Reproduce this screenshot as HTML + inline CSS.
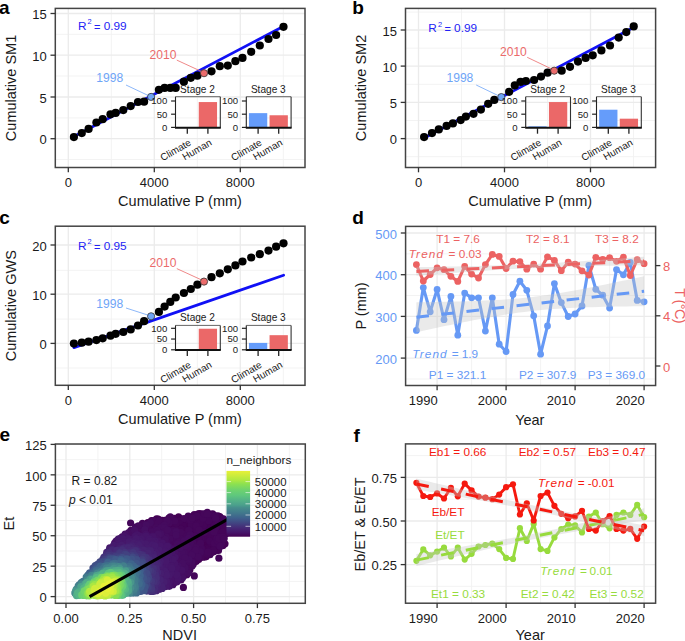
<!DOCTYPE html>
<html><head><meta charset="utf-8"><title>figure</title>
<style>html,body{margin:0;padding:0;background:#fff;}svg{display:block;}text{font-family:"Liberation Sans", sans-serif;}</style>
</head><body>
<svg width="685" height="641" viewBox="0 0 685 641" font-family='"Liberation Sans", sans-serif'>
<rect x="0" y="0" width="685" height="641" fill="#fff" stroke="none" stroke-width="0"/>
<rect x="55.3" y="8.4" width="249.7" height="159.1" fill="#fff" stroke="none" stroke-width="0"/>
<line x1="111.3" y1="8.4" x2="111.3" y2="167.5" stroke="#F2F2F2" stroke-width="0.9"/>
<line x1="197.3" y1="8.4" x2="197.3" y2="167.5" stroke="#F2F2F2" stroke-width="0.9"/>
<line x1="283.3" y1="8.4" x2="283.3" y2="167.5" stroke="#F2F2F2" stroke-width="0.9"/>
<line x1="55.3" y1="159.5" x2="305" y2="159.5" stroke="#F2F2F2" stroke-width="0.9"/>
<line x1="55.3" y1="117.9" x2="305" y2="117.9" stroke="#F2F2F2" stroke-width="0.9"/>
<line x1="55.3" y1="76" x2="305" y2="76" stroke="#F2F2F2" stroke-width="0.9"/>
<line x1="55.3" y1="34.3" x2="305" y2="34.3" stroke="#F2F2F2" stroke-width="0.9"/>
<line x1="68.3" y1="8.4" x2="68.3" y2="167.5" stroke="#EBEBEB" stroke-width="1.3"/>
<line x1="154.3" y1="8.4" x2="154.3" y2="167.5" stroke="#EBEBEB" stroke-width="1.3"/>
<line x1="240.3" y1="8.4" x2="240.3" y2="167.5" stroke="#EBEBEB" stroke-width="1.3"/>
<line x1="55.3" y1="138.7" x2="305" y2="138.7" stroke="#EBEBEB" stroke-width="1.3"/>
<line x1="55.3" y1="97" x2="305" y2="97" stroke="#EBEBEB" stroke-width="1.3"/>
<line x1="55.3" y1="55.2" x2="305" y2="55.2" stroke="#EBEBEB" stroke-width="1.3"/>
<line x1="55.3" y1="13.5" x2="305" y2="13.5" stroke="#EBEBEB" stroke-width="1.3"/>
<line x1="73.9" y1="136.4" x2="283.6" y2="26.3" stroke="#1010F5" stroke-width="2.8" stroke-linecap="round"/>
<line x1="126" y1="85" x2="150.1" y2="96.4" stroke="#6FA5F7" stroke-width="0.8"/>
<line x1="176.8" y1="60.1" x2="203" y2="72.2" stroke="#EB6B6B" stroke-width="0.8"/>
<circle cx="73.9" cy="137.1" r="4.1" fill="#000"/>
<circle cx="81.8" cy="133.1" r="4.1" fill="#000"/>
<circle cx="88.6" cy="128.9" r="4.1" fill="#000"/>
<circle cx="96.4" cy="122.5" r="4.1" fill="#000"/>
<circle cx="102.7" cy="119.2" r="4.1" fill="#000"/>
<circle cx="110.5" cy="114.3" r="4.1" fill="#000"/>
<circle cx="115.7" cy="112.9" r="4.1" fill="#000"/>
<circle cx="123.3" cy="110.1" r="4.1" fill="#000"/>
<circle cx="130.7" cy="106.1" r="4.1" fill="#000"/>
<circle cx="138" cy="102" r="4.1" fill="#000"/>
<circle cx="144.1" cy="101.7" r="4.1" fill="#000"/>
<circle cx="158.9" cy="89.8" r="4.1" fill="#000"/>
<circle cx="164.6" cy="87.9" r="4.1" fill="#000"/>
<circle cx="170.3" cy="87.9" r="4.1" fill="#000"/>
<circle cx="175.7" cy="87.9" r="4.1" fill="#000"/>
<circle cx="183.9" cy="81.7" r="4.1" fill="#000"/>
<circle cx="190.8" cy="77.8" r="4.1" fill="#000"/>
<circle cx="197.4" cy="75.7" r="4.1" fill="#000"/>
<circle cx="211.5" cy="71.3" r="4.1" fill="#000"/>
<circle cx="219.8" cy="66.2" r="4.1" fill="#000"/>
<circle cx="227.8" cy="65.6" r="4.1" fill="#000"/>
<circle cx="235.4" cy="61.2" r="4.1" fill="#000"/>
<circle cx="242.5" cy="57.9" r="4.1" fill="#000"/>
<circle cx="251.2" cy="51.8" r="4.1" fill="#000"/>
<circle cx="259.8" cy="45.5" r="4.1" fill="#000"/>
<circle cx="268.5" cy="39" r="4.1" fill="#000"/>
<circle cx="276.1" cy="35" r="4.1" fill="#000"/>
<circle cx="283.5" cy="26.8" r="4.1" fill="#000"/>
<circle cx="151.1" cy="96.9" r="3.6" fill="#6FA5F7" stroke="#333" stroke-width="0.8"/>
<circle cx="204" cy="73.2" r="3.6" fill="#EB6B6B" stroke="#333" stroke-width="0.8"/>
<rect x="198.75" y="102.06" width="18.3" height="25.34" fill="#EB6868" stroke="none" stroke-width="0"/>
<line x1="175.5" y1="96.7" x2="220.3" y2="96.7" stroke="#666" stroke-width="1"/>
<line x1="220.3" y1="96.7" x2="220.3" y2="127.8" stroke="#333" stroke-width="1.1"/>
<line x1="175.5" y1="96.7" x2="175.5" y2="127.8" stroke="#222" stroke-width="1.1"/>
<line x1="175" y1="127.8" x2="220.8" y2="127.8" stroke="#111" stroke-width="2"/>
<line x1="171.1" y1="101" x2="175.5" y2="101" stroke="#222" stroke-width="1.2"/>
<text x="167.3" y="104.3" font-size="9.6" text-anchor="end" fill="#1a1a1a">100</text>
<line x1="171.1" y1="114.2" x2="175.5" y2="114.2" stroke="#222" stroke-width="1.2"/>
<text x="167.3" y="117.5" font-size="9.6" text-anchor="end" fill="#1a1a1a">50</text>
<line x1="171.1" y1="127.4" x2="175.5" y2="127.4" stroke="#222" stroke-width="1.2"/>
<text x="167.3" y="130.7" font-size="9.6" text-anchor="end" fill="#1a1a1a">0</text>
<line x1="187.3" y1="127.8" x2="187.3" y2="133.7" stroke="#222" stroke-width="1.3"/>
<line x1="207.9" y1="127.8" x2="207.9" y2="133.7" stroke="#222" stroke-width="1.3"/>
<text x="197.5" y="92.57" font-size="10.1" text-anchor="middle" fill="#1a1a1a">Stage 2</text>
<text transform="translate(191.8,144.6) rotate(-30)" x="0" y="0" font-size="9.9" text-anchor="end" fill="#1a1a1a">Climate</text>
<text transform="translate(212.4,144.6) rotate(-30)" x="0" y="0" font-size="9.9" text-anchor="end" fill="#1a1a1a">Human</text>
<rect x="248.95" y="113.14" width="18.3" height="14.26" fill="#659CFA" stroke="none" stroke-width="0"/>
<rect x="269.55" y="115.26" width="18.3" height="12.14" fill="#EB6868" stroke="none" stroke-width="0"/>
<line x1="246.3" y1="96.7" x2="291.1" y2="96.7" stroke="#666" stroke-width="1"/>
<line x1="291.1" y1="96.7" x2="291.1" y2="127.8" stroke="#333" stroke-width="1.1"/>
<line x1="246.3" y1="96.7" x2="246.3" y2="127.8" stroke="#222" stroke-width="1.1"/>
<line x1="245.8" y1="127.8" x2="291.6" y2="127.8" stroke="#111" stroke-width="2"/>
<line x1="241.9" y1="101" x2="246.3" y2="101" stroke="#222" stroke-width="1.2"/>
<text x="238.1" y="104.3" font-size="9.6" text-anchor="end" fill="#1a1a1a">100</text>
<line x1="241.9" y1="114.2" x2="246.3" y2="114.2" stroke="#222" stroke-width="1.2"/>
<text x="238.1" y="117.5" font-size="9.6" text-anchor="end" fill="#1a1a1a">50</text>
<line x1="241.9" y1="127.4" x2="246.3" y2="127.4" stroke="#222" stroke-width="1.2"/>
<text x="238.1" y="130.7" font-size="9.6" text-anchor="end" fill="#1a1a1a">0</text>
<line x1="258.1" y1="127.8" x2="258.1" y2="133.7" stroke="#222" stroke-width="1.3"/>
<line x1="278.7" y1="127.8" x2="278.7" y2="133.7" stroke="#222" stroke-width="1.3"/>
<text x="268.3" y="92.57" font-size="10.1" text-anchor="middle" fill="#1a1a1a">Stage 3</text>
<text transform="translate(262.6,144.6) rotate(-30)" x="0" y="0" font-size="9.9" text-anchor="end" fill="#1a1a1a">Climate</text>
<text transform="translate(283.2,144.6) rotate(-30)" x="0" y="0" font-size="9.9" text-anchor="end" fill="#1a1a1a">Human</text>
<text x="109.7" y="81.66" font-size="12.1" text-anchor="middle" fill="#6FA5F7">1998</text>
<text x="163" y="59.06" font-size="12.1" text-anchor="middle" fill="#EB6B6B">2010</text>
<text x="77.9" y="29.8" font-size="11.8" fill="#2222F5">R</text>
<text x="87.6" y="24.4" font-size="7.4" fill="#2222F5">2</text>
<text x="94.1" y="30.7" font-size="11" fill="#2222F5">=</text>
<text x="103.7" y="29.8" font-size="11.8" fill="#2222F5">0.99</text>
<rect x="55.3" y="8.4" width="249.7" height="159.1" fill="none" stroke="#444444" stroke-width="1.5"/>
<line x1="50.5" y1="138.7" x2="55.3" y2="138.7" stroke="#333333" stroke-width="1.3"/>
<text x="46.7" y="144.37" font-size="13" text-anchor="end" fill="#1a1a1a">0</text>
<line x1="50.5" y1="97" x2="55.3" y2="97" stroke="#333333" stroke-width="1.3"/>
<text x="46.7" y="102.67" font-size="13" text-anchor="end" fill="#1a1a1a">5</text>
<line x1="50.5" y1="55.2" x2="55.3" y2="55.2" stroke="#333333" stroke-width="1.3"/>
<text x="46.7" y="60.87" font-size="13" text-anchor="end" fill="#1a1a1a">10</text>
<line x1="50.5" y1="13.5" x2="55.3" y2="13.5" stroke="#333333" stroke-width="1.3"/>
<text x="46.7" y="19.17" font-size="13" text-anchor="end" fill="#1a1a1a">15</text>
<line x1="68.3" y1="167.5" x2="68.3" y2="172.3" stroke="#333333" stroke-width="1.3"/>
<text x="68.3" y="186.97" font-size="13" text-anchor="middle" fill="#1a1a1a">0</text>
<line x1="154.3" y1="167.5" x2="154.3" y2="172.3" stroke="#333333" stroke-width="1.3"/>
<text x="154.3" y="186.97" font-size="13" text-anchor="middle" fill="#1a1a1a">4000</text>
<line x1="240.3" y1="167.5" x2="240.3" y2="172.3" stroke="#333333" stroke-width="1.3"/>
<text x="240.3" y="186.97" font-size="13" text-anchor="middle" fill="#1a1a1a">8000</text>
<text x="180" y="206.49" font-size="14.5" text-anchor="middle" fill="#1a1a1a">Cumulative P (mm)</text>
<text transform="translate(11,87.95) rotate(-90)" x="0" y="4.99" font-size="14.5" text-anchor="middle" fill="#1a1a1a">Cumulative SM1</text>
<text x="-1" y="13.8" font-size="19" font-weight="bold" fill="#000">a</text>
<rect x="405.5" y="8.4" width="250.1" height="159.1" fill="#fff" stroke="none" stroke-width="0"/>
<line x1="461.5" y1="8.4" x2="461.5" y2="167.5" stroke="#F2F2F2" stroke-width="0.9"/>
<line x1="547.5" y1="8.4" x2="547.5" y2="167.5" stroke="#F2F2F2" stroke-width="0.9"/>
<line x1="633.5" y1="8.4" x2="633.5" y2="167.5" stroke="#F2F2F2" stroke-width="0.9"/>
<line x1="405.5" y1="156.7" x2="655.6" y2="156.7" stroke="#F2F2F2" stroke-width="0.9"/>
<line x1="405.5" y1="120.5" x2="655.6" y2="120.5" stroke="#F2F2F2" stroke-width="0.9"/>
<line x1="405.5" y1="84.3" x2="655.6" y2="84.3" stroke="#F2F2F2" stroke-width="0.9"/>
<line x1="405.5" y1="48.2" x2="655.6" y2="48.2" stroke="#F2F2F2" stroke-width="0.9"/>
<line x1="405.5" y1="12.1" x2="655.6" y2="12.1" stroke="#F2F2F2" stroke-width="0.9"/>
<line x1="418.5" y1="8.4" x2="418.5" y2="167.5" stroke="#EBEBEB" stroke-width="1.3"/>
<line x1="504.5" y1="8.4" x2="504.5" y2="167.5" stroke="#EBEBEB" stroke-width="1.3"/>
<line x1="590.5" y1="8.4" x2="590.5" y2="167.5" stroke="#EBEBEB" stroke-width="1.3"/>
<line x1="405.5" y1="138.6" x2="655.6" y2="138.6" stroke="#EBEBEB" stroke-width="1.3"/>
<line x1="405.5" y1="102.4" x2="655.6" y2="102.4" stroke="#EBEBEB" stroke-width="1.3"/>
<line x1="405.5" y1="66.1" x2="655.6" y2="66.1" stroke="#EBEBEB" stroke-width="1.3"/>
<line x1="405.5" y1="30" x2="655.6" y2="30" stroke="#EBEBEB" stroke-width="1.3"/>
<line x1="424.1" y1="138.1" x2="633.4" y2="27.5" stroke="#1010F5" stroke-width="2.8" stroke-linecap="round"/>
<line x1="476.2" y1="85" x2="500.3" y2="96.6" stroke="#6FA5F7" stroke-width="0.8"/>
<line x1="527.2" y1="57.3" x2="553.2" y2="69.7" stroke="#EB6B6B" stroke-width="0.8"/>
<circle cx="424.1" cy="137.1" r="4.1" fill="#000"/>
<circle cx="432" cy="133.1" r="4.1" fill="#000"/>
<circle cx="438.8" cy="129.4" r="4.1" fill="#000"/>
<circle cx="446.6" cy="125.9" r="4.1" fill="#000"/>
<circle cx="452.9" cy="123.4" r="4.1" fill="#000"/>
<circle cx="460.7" cy="120.1" r="4.1" fill="#000"/>
<circle cx="465.9" cy="116.6" r="4.1" fill="#000"/>
<circle cx="473.5" cy="113.8" r="4.1" fill="#000"/>
<circle cx="480.9" cy="109.6" r="4.1" fill="#000"/>
<circle cx="488.2" cy="103.8" r="4.1" fill="#000"/>
<circle cx="494.3" cy="99.9" r="4.1" fill="#000"/>
<circle cx="509.1" cy="91.8" r="4.1" fill="#000"/>
<circle cx="514.8" cy="85.4" r="4.1" fill="#000"/>
<circle cx="520.5" cy="81.9" r="4.1" fill="#000"/>
<circle cx="525.9" cy="81" r="4.1" fill="#000"/>
<circle cx="534.1" cy="80" r="4.1" fill="#000"/>
<circle cx="541" cy="76.6" r="4.1" fill="#000"/>
<circle cx="547.6" cy="72.7" r="4.1" fill="#000"/>
<circle cx="561.7" cy="70.7" r="4.1" fill="#000"/>
<circle cx="570" cy="66.8" r="4.1" fill="#000"/>
<circle cx="578" cy="61.6" r="4.1" fill="#000"/>
<circle cx="585.6" cy="57.9" r="4.1" fill="#000"/>
<circle cx="592.7" cy="55.3" r="4.1" fill="#000"/>
<circle cx="601.4" cy="50.4" r="4.1" fill="#000"/>
<circle cx="610" cy="45.5" r="4.1" fill="#000"/>
<circle cx="618.7" cy="37.6" r="4.1" fill="#000"/>
<circle cx="626.3" cy="32.1" r="4.1" fill="#000"/>
<circle cx="633.7" cy="26.4" r="4.1" fill="#000"/>
<circle cx="501.3" cy="97.1" r="3.6" fill="#6FA5F7" stroke="#333" stroke-width="0.8"/>
<circle cx="554.2" cy="70.7" r="3.6" fill="#EB6B6B" stroke="#333" stroke-width="0.8"/>
<rect x="528.35" y="126.34" width="18.3" height="1.06" fill="#659CFA" stroke="none" stroke-width="0"/>
<rect x="548.95" y="102.06" width="18.3" height="25.34" fill="#EB6868" stroke="none" stroke-width="0"/>
<line x1="525.7" y1="96.7" x2="570.5" y2="96.7" stroke="#666" stroke-width="1"/>
<line x1="570.5" y1="96.7" x2="570.5" y2="127.8" stroke="#333" stroke-width="1.1"/>
<line x1="525.7" y1="96.7" x2="525.7" y2="127.8" stroke="#222" stroke-width="1.1"/>
<line x1="525.2" y1="127.8" x2="571" y2="127.8" stroke="#111" stroke-width="2"/>
<line x1="521.3" y1="101" x2="525.7" y2="101" stroke="#222" stroke-width="1.2"/>
<text x="517.5" y="104.3" font-size="9.6" text-anchor="end" fill="#1a1a1a">100</text>
<line x1="521.3" y1="114.2" x2="525.7" y2="114.2" stroke="#222" stroke-width="1.2"/>
<text x="517.5" y="117.5" font-size="9.6" text-anchor="end" fill="#1a1a1a">50</text>
<line x1="521.3" y1="127.4" x2="525.7" y2="127.4" stroke="#222" stroke-width="1.2"/>
<text x="517.5" y="130.7" font-size="9.6" text-anchor="end" fill="#1a1a1a">0</text>
<line x1="537.5" y1="127.8" x2="537.5" y2="133.7" stroke="#222" stroke-width="1.3"/>
<line x1="558.1" y1="127.8" x2="558.1" y2="133.7" stroke="#222" stroke-width="1.3"/>
<text x="547.7" y="92.57" font-size="10.1" text-anchor="middle" fill="#1a1a1a">Stage 2</text>
<text transform="translate(542,144.6) rotate(-30)" x="0" y="0" font-size="9.9" text-anchor="end" fill="#1a1a1a">Climate</text>
<text transform="translate(562.6,144.6) rotate(-30)" x="0" y="0" font-size="9.9" text-anchor="end" fill="#1a1a1a">Human</text>
<rect x="599.15" y="109.71" width="18.3" height="17.69" fill="#659CFA" stroke="none" stroke-width="0"/>
<rect x="619.75" y="118.69" width="18.3" height="8.71" fill="#EB6868" stroke="none" stroke-width="0"/>
<line x1="596.5" y1="96.7" x2="641.3" y2="96.7" stroke="#666" stroke-width="1"/>
<line x1="641.3" y1="96.7" x2="641.3" y2="127.8" stroke="#333" stroke-width="1.1"/>
<line x1="596.5" y1="96.7" x2="596.5" y2="127.8" stroke="#222" stroke-width="1.1"/>
<line x1="596" y1="127.8" x2="641.8" y2="127.8" stroke="#111" stroke-width="2"/>
<line x1="592.1" y1="101" x2="596.5" y2="101" stroke="#222" stroke-width="1.2"/>
<text x="588.3" y="104.3" font-size="9.6" text-anchor="end" fill="#1a1a1a">100</text>
<line x1="592.1" y1="114.2" x2="596.5" y2="114.2" stroke="#222" stroke-width="1.2"/>
<text x="588.3" y="117.5" font-size="9.6" text-anchor="end" fill="#1a1a1a">50</text>
<line x1="592.1" y1="127.4" x2="596.5" y2="127.4" stroke="#222" stroke-width="1.2"/>
<text x="588.3" y="130.7" font-size="9.6" text-anchor="end" fill="#1a1a1a">0</text>
<line x1="608.3" y1="127.8" x2="608.3" y2="133.7" stroke="#222" stroke-width="1.3"/>
<line x1="628.9" y1="127.8" x2="628.9" y2="133.7" stroke="#222" stroke-width="1.3"/>
<text x="618.5" y="92.57" font-size="10.1" text-anchor="middle" fill="#1a1a1a">Stage 3</text>
<text transform="translate(612.8,144.6) rotate(-30)" x="0" y="0" font-size="9.9" text-anchor="end" fill="#1a1a1a">Climate</text>
<text transform="translate(633.4,144.6) rotate(-30)" x="0" y="0" font-size="9.9" text-anchor="end" fill="#1a1a1a">Human</text>
<text x="459.9" y="81.66" font-size="12.1" text-anchor="middle" fill="#6FA5F7">1998</text>
<text x="513.4" y="56.16" font-size="12.1" text-anchor="middle" fill="#EB6B6B">2010</text>
<text x="428.3" y="32.4" font-size="11.8" fill="#2222F5">R</text>
<text x="438" y="27" font-size="7.4" fill="#2222F5">2</text>
<text x="444.5" y="33.3" font-size="11" fill="#2222F5">=</text>
<text x="454.1" y="32.4" font-size="11.8" fill="#2222F5">0.99</text>
<rect x="405.5" y="8.4" width="250.1" height="159.1" fill="none" stroke="#444444" stroke-width="1.5"/>
<line x1="400.7" y1="138.6" x2="405.5" y2="138.6" stroke="#333333" stroke-width="1.3"/>
<text x="396.9" y="144.27" font-size="13" text-anchor="end" fill="#1a1a1a">0</text>
<line x1="400.7" y1="102.4" x2="405.5" y2="102.4" stroke="#333333" stroke-width="1.3"/>
<text x="396.9" y="108.07" font-size="13" text-anchor="end" fill="#1a1a1a">5</text>
<line x1="400.7" y1="66.1" x2="405.5" y2="66.1" stroke="#333333" stroke-width="1.3"/>
<text x="396.9" y="71.77" font-size="13" text-anchor="end" fill="#1a1a1a">10</text>
<line x1="400.7" y1="30" x2="405.5" y2="30" stroke="#333333" stroke-width="1.3"/>
<text x="396.9" y="35.67" font-size="13" text-anchor="end" fill="#1a1a1a">15</text>
<line x1="418.5" y1="167.5" x2="418.5" y2="172.3" stroke="#333333" stroke-width="1.3"/>
<text x="418.5" y="186.97" font-size="13" text-anchor="middle" fill="#1a1a1a">0</text>
<line x1="504.5" y1="167.5" x2="504.5" y2="172.3" stroke="#333333" stroke-width="1.3"/>
<text x="504.5" y="186.97" font-size="13" text-anchor="middle" fill="#1a1a1a">4000</text>
<line x1="590.5" y1="167.5" x2="590.5" y2="172.3" stroke="#333333" stroke-width="1.3"/>
<text x="590.5" y="186.97" font-size="13" text-anchor="middle" fill="#1a1a1a">8000</text>
<text x="530.2" y="206.49" font-size="14.5" text-anchor="middle" fill="#1a1a1a">Cumulative P (mm)</text>
<text transform="translate(361.2,87.95) rotate(-90)" x="0" y="4.99" font-size="14.5" text-anchor="middle" fill="#1a1a1a">Cumulative SM2</text>
<text x="352.2" y="13.8" font-size="19" font-weight="bold" fill="#000">b</text>
<rect x="55.3" y="226.2" width="249.7" height="159.1" fill="#fff" stroke="none" stroke-width="0"/>
<line x1="111.3" y1="226.2" x2="111.3" y2="385.3" stroke="#F2F2F2" stroke-width="0.9"/>
<line x1="197.3" y1="226.2" x2="197.3" y2="385.3" stroke="#F2F2F2" stroke-width="0.9"/>
<line x1="283.3" y1="226.2" x2="283.3" y2="385.3" stroke="#F2F2F2" stroke-width="0.9"/>
<line x1="55.3" y1="368" x2="305" y2="368" stroke="#F2F2F2" stroke-width="0.9"/>
<line x1="55.3" y1="319.1" x2="305" y2="319.1" stroke="#F2F2F2" stroke-width="0.9"/>
<line x1="55.3" y1="270.3" x2="305" y2="270.3" stroke="#F2F2F2" stroke-width="0.9"/>
<line x1="68.3" y1="226.2" x2="68.3" y2="385.3" stroke="#EBEBEB" stroke-width="1.3"/>
<line x1="154.3" y1="226.2" x2="154.3" y2="385.3" stroke="#EBEBEB" stroke-width="1.3"/>
<line x1="240.3" y1="226.2" x2="240.3" y2="385.3" stroke="#EBEBEB" stroke-width="1.3"/>
<line x1="55.3" y1="343.4" x2="305" y2="343.4" stroke="#EBEBEB" stroke-width="1.3"/>
<line x1="55.3" y1="294.2" x2="305" y2="294.2" stroke="#EBEBEB" stroke-width="1.3"/>
<line x1="55.3" y1="245" x2="305" y2="245" stroke="#EBEBEB" stroke-width="1.3"/>
<line x1="73.9" y1="347.6" x2="283.6" y2="275.2" stroke="#1010F5" stroke-width="2.8" stroke-linecap="round"/>
<line x1="126" y1="308" x2="150.1" y2="315.8" stroke="#6FA5F7" stroke-width="0.8"/>
<line x1="176.8" y1="268.6" x2="203" y2="280.6" stroke="#EB6B6B" stroke-width="0.8"/>
<circle cx="73.9" cy="343.6" r="4.1" fill="#000"/>
<circle cx="81.8" cy="342.7" r="4.1" fill="#000"/>
<circle cx="88.6" cy="341.7" r="4.1" fill="#000"/>
<circle cx="96.4" cy="340.1" r="4.1" fill="#000"/>
<circle cx="102.7" cy="338.3" r="4.1" fill="#000"/>
<circle cx="110.5" cy="335.7" r="4.1" fill="#000"/>
<circle cx="115.7" cy="333.8" r="4.1" fill="#000"/>
<circle cx="123.3" cy="332" r="4.1" fill="#000"/>
<circle cx="130.7" cy="329.4" r="4.1" fill="#000"/>
<circle cx="138" cy="325.5" r="4.1" fill="#000"/>
<circle cx="144.1" cy="321.2" r="4.1" fill="#000"/>
<circle cx="158.9" cy="311.9" r="4.1" fill="#000"/>
<circle cx="164.6" cy="306.6" r="4.1" fill="#000"/>
<circle cx="170.3" cy="301.9" r="4.1" fill="#000"/>
<circle cx="175.7" cy="297.5" r="4.1" fill="#000"/>
<circle cx="183.9" cy="293" r="4.1" fill="#000"/>
<circle cx="190.8" cy="289" r="4.1" fill="#000"/>
<circle cx="197.4" cy="284.7" r="4.1" fill="#000"/>
<circle cx="211.5" cy="277.2" r="4.1" fill="#000"/>
<circle cx="219.8" cy="273.3" r="4.1" fill="#000"/>
<circle cx="227.8" cy="269.3" r="4.1" fill="#000"/>
<circle cx="235.4" cy="265.4" r="4.1" fill="#000"/>
<circle cx="242.5" cy="261.5" r="4.1" fill="#000"/>
<circle cx="251.2" cy="257.5" r="4.1" fill="#000"/>
<circle cx="259.8" cy="254.2" r="4.1" fill="#000"/>
<circle cx="268.5" cy="250.6" r="4.1" fill="#000"/>
<circle cx="276.1" cy="246.7" r="4.1" fill="#000"/>
<circle cx="283.5" cy="243.3" r="4.1" fill="#000"/>
<circle cx="151.1" cy="316.3" r="3.6" fill="#6FA5F7" stroke="#333" stroke-width="0.8"/>
<circle cx="204" cy="281.6" r="3.6" fill="#EB6B6B" stroke="#333" stroke-width="0.8"/>
<rect x="198.75" y="328.73" width="18.3" height="21.07" fill="#EB6868" stroke="none" stroke-width="0"/>
<line x1="175.5" y1="325.4" x2="220.3" y2="325.4" stroke="#666" stroke-width="1"/>
<line x1="220.3" y1="325.4" x2="220.3" y2="350" stroke="#333" stroke-width="1.1"/>
<line x1="175.5" y1="325.4" x2="175.5" y2="350" stroke="#222" stroke-width="1.1"/>
<line x1="175" y1="350" x2="220.8" y2="350" stroke="#111" stroke-width="2"/>
<line x1="171.1" y1="328.3" x2="175.5" y2="328.3" stroke="#222" stroke-width="1.2"/>
<text x="167.3" y="331.6" font-size="9.6" text-anchor="end" fill="#1a1a1a">100</text>
<line x1="171.1" y1="339.05" x2="175.5" y2="339.05" stroke="#222" stroke-width="1.2"/>
<text x="167.3" y="342.35" font-size="9.6" text-anchor="end" fill="#1a1a1a">50</text>
<line x1="171.1" y1="349.8" x2="175.5" y2="349.8" stroke="#222" stroke-width="1.2"/>
<text x="167.3" y="353.1" font-size="9.6" text-anchor="end" fill="#1a1a1a">0</text>
<line x1="187.3" y1="350" x2="187.3" y2="355.9" stroke="#222" stroke-width="1.3"/>
<line x1="207.9" y1="350" x2="207.9" y2="355.9" stroke="#222" stroke-width="1.3"/>
<text x="197.5" y="321.27" font-size="10.1" text-anchor="middle" fill="#1a1a1a">Stage 2</text>
<text transform="translate(191.8,366.8) rotate(-30)" x="0" y="0" font-size="9.9" text-anchor="end" fill="#1a1a1a">Climate</text>
<text transform="translate(212.4,366.8) rotate(-30)" x="0" y="0" font-size="9.9" text-anchor="end" fill="#1a1a1a">Human</text>
<rect x="248.95" y="342.92" width="18.3" height="6.88" fill="#659CFA" stroke="none" stroke-width="0"/>
<rect x="269.55" y="335.18" width="18.3" height="14.62" fill="#EB6868" stroke="none" stroke-width="0"/>
<line x1="246.3" y1="325.4" x2="291.1" y2="325.4" stroke="#666" stroke-width="1"/>
<line x1="291.1" y1="325.4" x2="291.1" y2="350" stroke="#333" stroke-width="1.1"/>
<line x1="246.3" y1="325.4" x2="246.3" y2="350" stroke="#222" stroke-width="1.1"/>
<line x1="245.8" y1="350" x2="291.6" y2="350" stroke="#111" stroke-width="2"/>
<line x1="241.9" y1="328.3" x2="246.3" y2="328.3" stroke="#222" stroke-width="1.2"/>
<text x="238.1" y="331.6" font-size="9.6" text-anchor="end" fill="#1a1a1a">100</text>
<line x1="241.9" y1="339.05" x2="246.3" y2="339.05" stroke="#222" stroke-width="1.2"/>
<text x="238.1" y="342.35" font-size="9.6" text-anchor="end" fill="#1a1a1a">50</text>
<line x1="241.9" y1="349.8" x2="246.3" y2="349.8" stroke="#222" stroke-width="1.2"/>
<text x="238.1" y="353.1" font-size="9.6" text-anchor="end" fill="#1a1a1a">0</text>
<line x1="258.1" y1="350" x2="258.1" y2="355.9" stroke="#222" stroke-width="1.3"/>
<line x1="278.7" y1="350" x2="278.7" y2="355.9" stroke="#222" stroke-width="1.3"/>
<text x="268.3" y="321.27" font-size="10.1" text-anchor="middle" fill="#1a1a1a">Stage 3</text>
<text transform="translate(262.6,366.8) rotate(-30)" x="0" y="0" font-size="9.9" text-anchor="end" fill="#1a1a1a">Climate</text>
<text transform="translate(283.2,366.8) rotate(-30)" x="0" y="0" font-size="9.9" text-anchor="end" fill="#1a1a1a">Human</text>
<text x="109.7" y="308.06" font-size="12.1" text-anchor="middle" fill="#6FA5F7">1998</text>
<text x="163" y="267.36" font-size="12.1" text-anchor="middle" fill="#EB6B6B">2010</text>
<text x="77.9" y="249.8" font-size="11.8" fill="#2222F5">R</text>
<text x="87.6" y="244.4" font-size="7.4" fill="#2222F5">2</text>
<text x="94.1" y="250.7" font-size="11" fill="#2222F5">=</text>
<text x="103.7" y="249.8" font-size="11.8" fill="#2222F5">0.95</text>
<rect x="55.3" y="226.2" width="249.7" height="159.1" fill="none" stroke="#444444" stroke-width="1.5"/>
<line x1="50.5" y1="343.4" x2="55.3" y2="343.4" stroke="#333333" stroke-width="1.3"/>
<text x="46.7" y="349.07" font-size="13" text-anchor="end" fill="#1a1a1a">0</text>
<line x1="50.5" y1="294.2" x2="55.3" y2="294.2" stroke="#333333" stroke-width="1.3"/>
<text x="46.7" y="299.87" font-size="13" text-anchor="end" fill="#1a1a1a">10</text>
<line x1="50.5" y1="245" x2="55.3" y2="245" stroke="#333333" stroke-width="1.3"/>
<text x="46.7" y="250.67" font-size="13" text-anchor="end" fill="#1a1a1a">20</text>
<line x1="68.3" y1="385.3" x2="68.3" y2="390.1" stroke="#333333" stroke-width="1.3"/>
<text x="68.3" y="404.77" font-size="13" text-anchor="middle" fill="#1a1a1a">0</text>
<line x1="154.3" y1="385.3" x2="154.3" y2="390.1" stroke="#333333" stroke-width="1.3"/>
<text x="154.3" y="404.77" font-size="13" text-anchor="middle" fill="#1a1a1a">4000</text>
<line x1="240.3" y1="385.3" x2="240.3" y2="390.1" stroke="#333333" stroke-width="1.3"/>
<text x="240.3" y="404.77" font-size="13" text-anchor="middle" fill="#1a1a1a">8000</text>
<text x="180" y="424.29" font-size="14.5" text-anchor="middle" fill="#1a1a1a">Cumulative P (mm)</text>
<text transform="translate(11,305.75) rotate(-90)" x="0" y="4.99" font-size="14.5" text-anchor="middle" fill="#1a1a1a">Cumulative GWS</text>
<text x="-0.8" y="223.8" font-size="19" font-weight="bold" fill="#000">c</text>
<rect x="405.6" y="226.4" width="250" height="159.1" fill="#fff" stroke="none" stroke-width="0"/>
<line x1="471.6" y1="226.4" x2="471.6" y2="385.5" stroke="#F2F2F2" stroke-width="0.9"/>
<line x1="540.6" y1="226.4" x2="540.6" y2="385.5" stroke="#F2F2F2" stroke-width="0.9"/>
<line x1="609.6" y1="226.4" x2="609.6" y2="385.5" stroke="#F2F2F2" stroke-width="0.9"/>
<line x1="405.6" y1="253.85" x2="655.6" y2="253.85" stroke="#F2F2F2" stroke-width="0.9"/>
<line x1="405.6" y1="295.55" x2="655.6" y2="295.55" stroke="#F2F2F2" stroke-width="0.9"/>
<line x1="405.6" y1="337.25" x2="655.6" y2="337.25" stroke="#F2F2F2" stroke-width="0.9"/>
<line x1="405.6" y1="378.95" x2="655.6" y2="378.95" stroke="#F2F2F2" stroke-width="0.9"/>
<line x1="437.1" y1="226.4" x2="437.1" y2="385.5" stroke="#EBEBEB" stroke-width="1.3"/>
<line x1="506.1" y1="226.4" x2="506.1" y2="385.5" stroke="#EBEBEB" stroke-width="1.3"/>
<line x1="575.1" y1="226.4" x2="575.1" y2="385.5" stroke="#EBEBEB" stroke-width="1.3"/>
<line x1="644.1" y1="226.4" x2="644.1" y2="385.5" stroke="#EBEBEB" stroke-width="1.3"/>
<line x1="405.6" y1="233" x2="655.6" y2="233" stroke="#EBEBEB" stroke-width="1.3"/>
<line x1="405.6" y1="274.7" x2="655.6" y2="274.7" stroke="#EBEBEB" stroke-width="1.3"/>
<line x1="405.6" y1="316.4" x2="655.6" y2="316.4" stroke="#EBEBEB" stroke-width="1.3"/>
<line x1="405.6" y1="358.1" x2="655.6" y2="358.1" stroke="#EBEBEB" stroke-width="1.3"/>
<polyline points="416.4,330.4 423.3,287.6 430.2,311.8 437.1,289.5 444,319.7 450.9,296.4 457.8,335.2 464.7,293.1 471.6,297.8 478.5,297.8 485.4,331.1 492.3,297.8 499.2,344.2 506.1,351.5 513,294.5 519.9,281.2 526.8,290.3 533.7,315.8 540.6,354.2 547.5,326 554.4,283.6 561.3,302.6 568.2,316.5 575.1,314 582,306 588.9,265.5 595.8,289.3 602.7,295.2 609.6,308.1 616.5,269.6 623.4,274.8 630.3,262.3 637.2,300.4 644.1,301.8" fill="none" stroke="#6699F5" stroke-width="3.1" stroke-linejoin="round" stroke-linecap="round"/>
<circle cx="416.4" cy="330.4" r="3.4" fill="#6699F5"/>
<circle cx="423.3" cy="287.6" r="3.4" fill="#6699F5"/>
<circle cx="430.2" cy="311.8" r="3.4" fill="#6699F5"/>
<circle cx="437.1" cy="289.5" r="3.4" fill="#6699F5"/>
<circle cx="444" cy="319.7" r="3.4" fill="#6699F5"/>
<circle cx="450.9" cy="296.4" r="3.4" fill="#6699F5"/>
<circle cx="457.8" cy="335.2" r="3.4" fill="#6699F5"/>
<circle cx="464.7" cy="293.1" r="3.4" fill="#6699F5"/>
<circle cx="471.6" cy="297.8" r="3.4" fill="#6699F5"/>
<circle cx="478.5" cy="297.8" r="3.4" fill="#6699F5"/>
<circle cx="485.4" cy="331.1" r="3.4" fill="#6699F5"/>
<circle cx="492.3" cy="297.8" r="3.4" fill="#6699F5"/>
<circle cx="499.2" cy="344.2" r="3.4" fill="#6699F5"/>
<circle cx="506.1" cy="351.5" r="3.4" fill="#6699F5"/>
<circle cx="513" cy="294.5" r="3.4" fill="#6699F5"/>
<circle cx="519.9" cy="281.2" r="3.4" fill="#6699F5"/>
<circle cx="526.8" cy="290.3" r="3.4" fill="#6699F5"/>
<circle cx="533.7" cy="315.8" r="3.4" fill="#6699F5"/>
<circle cx="540.6" cy="354.2" r="3.4" fill="#6699F5"/>
<circle cx="547.5" cy="326" r="3.4" fill="#6699F5"/>
<circle cx="554.4" cy="283.6" r="3.4" fill="#6699F5"/>
<circle cx="561.3" cy="302.6" r="3.4" fill="#6699F5"/>
<circle cx="568.2" cy="316.5" r="3.4" fill="#6699F5"/>
<circle cx="575.1" cy="314" r="3.4" fill="#6699F5"/>
<circle cx="582" cy="306" r="3.4" fill="#6699F5"/>
<circle cx="588.9" cy="265.5" r="3.4" fill="#6699F5"/>
<circle cx="595.8" cy="289.3" r="3.4" fill="#6699F5"/>
<circle cx="602.7" cy="295.2" r="3.4" fill="#6699F5"/>
<circle cx="609.6" cy="308.1" r="3.4" fill="#6699F5"/>
<circle cx="616.5" cy="269.6" r="3.4" fill="#6699F5"/>
<circle cx="623.4" cy="274.8" r="3.4" fill="#6699F5"/>
<circle cx="630.3" cy="262.3" r="3.4" fill="#6699F5"/>
<circle cx="637.2" cy="300.4" r="3.4" fill="#6699F5"/>
<circle cx="644.1" cy="301.8" r="3.4" fill="#6699F5"/>
<polyline points="416.4,264.6 423.3,281 430.2,274.5 437.1,267.8 444,269.7 450.9,276.3 457.8,281.4 464.7,266.4 471.6,274.1 478.5,278 485.4,264.6 492.3,254.4 499.2,256.4 506.1,268.5 513,261.2 519.9,261.6 526.8,269.2 533.7,264.1 540.6,269.2 547.5,256.8 554.4,260.4 561.3,270.7 568.2,262.2 575.1,264.1 582,270.8 588.9,275.1 595.8,257.3 602.7,259.4 609.6,257.7 616.5,261.3 623.4,257.1 630.3,275.5 637.2,259.7 644.1,263.7" fill="none" stroke="#EC6262" stroke-width="3.1" stroke-linejoin="round" stroke-linecap="round"/>
<circle cx="416.4" cy="264.6" r="3.4" fill="#EC6262"/>
<circle cx="423.3" cy="281" r="3.4" fill="#EC6262"/>
<circle cx="430.2" cy="274.5" r="3.4" fill="#EC6262"/>
<circle cx="437.1" cy="267.8" r="3.4" fill="#EC6262"/>
<circle cx="444" cy="269.7" r="3.4" fill="#EC6262"/>
<circle cx="450.9" cy="276.3" r="3.4" fill="#EC6262"/>
<circle cx="457.8" cy="281.4" r="3.4" fill="#EC6262"/>
<circle cx="464.7" cy="266.4" r="3.4" fill="#EC6262"/>
<circle cx="471.6" cy="274.1" r="3.4" fill="#EC6262"/>
<circle cx="478.5" cy="278" r="3.4" fill="#EC6262"/>
<circle cx="485.4" cy="264.6" r="3.4" fill="#EC6262"/>
<circle cx="492.3" cy="254.4" r="3.4" fill="#EC6262"/>
<circle cx="499.2" cy="256.4" r="3.4" fill="#EC6262"/>
<circle cx="506.1" cy="268.5" r="3.4" fill="#EC6262"/>
<circle cx="513" cy="261.2" r="3.4" fill="#EC6262"/>
<circle cx="519.9" cy="261.6" r="3.4" fill="#EC6262"/>
<circle cx="526.8" cy="269.2" r="3.4" fill="#EC6262"/>
<circle cx="533.7" cy="264.1" r="3.4" fill="#EC6262"/>
<circle cx="540.6" cy="269.2" r="3.4" fill="#EC6262"/>
<circle cx="547.5" cy="256.8" r="3.4" fill="#EC6262"/>
<circle cx="554.4" cy="260.4" r="3.4" fill="#EC6262"/>
<circle cx="561.3" cy="270.7" r="3.4" fill="#EC6262"/>
<circle cx="568.2" cy="262.2" r="3.4" fill="#EC6262"/>
<circle cx="575.1" cy="264.1" r="3.4" fill="#EC6262"/>
<circle cx="582" cy="270.8" r="3.4" fill="#EC6262"/>
<circle cx="588.9" cy="275.1" r="3.4" fill="#EC6262"/>
<circle cx="595.8" cy="257.3" r="3.4" fill="#EC6262"/>
<circle cx="602.7" cy="259.4" r="3.4" fill="#EC6262"/>
<circle cx="609.6" cy="257.7" r="3.4" fill="#EC6262"/>
<circle cx="616.5" cy="261.3" r="3.4" fill="#EC6262"/>
<circle cx="623.4" cy="257.1" r="3.4" fill="#EC6262"/>
<circle cx="630.3" cy="275.5" r="3.4" fill="#EC6262"/>
<circle cx="637.2" cy="259.7" r="3.4" fill="#EC6262"/>
<circle cx="644.1" cy="263.7" r="3.4" fill="#EC6262"/>
<polygon points="416.4,302.2 422.09,302.13 427.79,302.06 433.48,301.98 439.17,301.89 444.86,301.78 450.56,301.67 456.25,301.54 461.94,301.4 467.63,301.24 473.33,301.06 479.02,300.85 484.71,300.62 490.4,300.35 496.1,300.05 501.79,299.7 507.48,299.31 513.17,298.87 518.87,298.38 524.56,297.82 530.25,297.2 535.94,296.52 541.63,295.78 547.33,294.97 553.02,294.11 558.71,293.2 564.4,292.25 570.1,291.25 575.79,290.22 581.48,289.15 587.18,288.06 592.87,286.94 598.56,285.8 604.25,284.64 609.95,283.47 615.64,282.28 621.33,281.09 627.02,279.88 632.72,278.66 638.41,277.43 644.1,276.2 644.1,306.2 638.41,306.27 632.72,306.34 627.02,306.42 621.33,306.51 615.64,306.62 609.95,306.73 604.25,306.86 598.56,307 592.87,307.16 587.18,307.34 581.48,307.55 575.79,307.78 570.1,308.05 564.4,308.35 558.71,308.7 553.02,309.09 547.33,309.53 541.63,310.02 535.94,310.58 530.25,311.2 524.56,311.88 518.87,312.62 513.17,313.43 507.48,314.29 501.79,315.2 496.1,316.15 490.4,317.15 484.71,318.18 479.02,319.25 473.33,320.34 467.63,321.46 461.94,322.6 456.25,323.76 450.56,324.93 444.86,326.12 439.17,327.31 433.48,328.52 427.79,329.74 422.09,330.97 416.4,332.2" fill="#C4C4C4" fill-opacity="0.36"/>
<line x1="416.4" y1="317.2" x2="644.1" y2="291.2" stroke="#6699F5" stroke-width="3" stroke-dasharray="12.6 12.6" stroke-dashoffset="0"/>
<polygon points="416.4,267.2 422.09,267.1 427.79,267 433.48,266.89 439.17,266.78 444.86,266.67 450.56,266.56 456.25,266.44 461.94,266.31 467.63,266.19 473.33,266.05 479.02,265.91 484.71,265.76 490.4,265.61 496.1,265.44 501.79,265.26 507.48,265.07 513.17,264.86 518.87,264.64 524.56,264.4 530.25,264.15 535.94,263.88 541.63,263.59 547.33,263.29 553.02,262.97 558.71,262.63 564.4,262.29 570.1,261.93 575.79,261.56 581.48,261.19 587.18,260.8 592.87,260.41 598.56,260.01 604.25,259.61 609.95,259.21 615.64,258.8 621.33,258.38 627.02,257.97 632.72,257.55 638.41,257.12 644.1,256.7 644.1,265.1 638.41,265.2 632.72,265.3 627.02,265.41 621.33,265.52 615.64,265.63 609.95,265.74 604.25,265.86 598.56,265.99 592.87,266.11 587.18,266.25 581.48,266.39 575.79,266.54 570.1,266.69 564.4,266.86 558.71,267.04 553.02,267.23 547.33,267.44 541.63,267.66 535.94,267.9 530.25,268.15 524.56,268.42 518.87,268.71 513.17,269.01 507.48,269.33 501.79,269.67 496.1,270.01 490.4,270.37 484.71,270.74 479.02,271.11 473.33,271.5 467.63,271.89 461.94,272.29 456.25,272.69 450.56,273.09 444.86,273.5 439.17,273.92 433.48,274.33 427.79,274.75 422.09,275.18 416.4,275.6" fill="#C4C4C4" fill-opacity="0.36"/>
<line x1="416.4" y1="271.4" x2="644.1" y2="260.9" stroke="#EC6262" stroke-width="3" stroke-dasharray="12.6 12.6" stroke-dashoffset="0"/>
<rect x="405.6" y="226.4" width="250" height="159.1" fill="none" stroke="#444444" stroke-width="1.5"/>
<text x="458.1" y="242.56" font-size="11.8" text-anchor="middle" fill="#EC6262">T1 = 7.6</text>
<text x="547.7" y="242.56" font-size="11.8" text-anchor="middle" fill="#EC6262">T2 = 8.1</text>
<text x="616.9" y="242.56" font-size="11.8" text-anchor="middle" fill="#EC6262">T3 = 8.2</text>
<text x="408.7" y="258.4" font-size="11.8" fill="#EC6262" font-style="italic" letter-spacing="1.1">Trend</text>
<text x="448.4" y="258.4" font-size="11.8" fill="#EC6262">=</text>
<text x="458.7" y="258.4" font-size="11.8" fill="#EC6262">0.03</text>
<text x="412.3" y="357.8" font-size="11.8" fill="#6699F5" font-style="italic" letter-spacing="1.1">Trend</text>
<text x="451.7" y="357.8" font-size="11.8" fill="#6699F5">=</text>
<text x="461.7" y="357.8" font-size="11.8" fill="#6699F5">1.9</text>
<text x="457.5" y="379.36" font-size="11.8" text-anchor="middle" fill="#6699F5">P1 = 321.1</text>
<text x="547.65" y="379.36" font-size="11.8" text-anchor="middle" fill="#6699F5">P2 = 307.9</text>
<text x="616.35" y="379.36" font-size="11.8" text-anchor="middle" fill="#6699F5">P3 = 369.0</text>
<line x1="400.8" y1="233" x2="405.6" y2="233" stroke="#333333" stroke-width="1.3"/>
<text x="397" y="238.67" font-size="13" text-anchor="end" fill="#6699F5">500</text>
<line x1="400.8" y1="274.7" x2="405.6" y2="274.7" stroke="#333333" stroke-width="1.3"/>
<text x="397" y="280.37" font-size="13" text-anchor="end" fill="#6699F5">400</text>
<line x1="400.8" y1="316.4" x2="405.6" y2="316.4" stroke="#333333" stroke-width="1.3"/>
<text x="397" y="322.07" font-size="13" text-anchor="end" fill="#6699F5">300</text>
<line x1="400.8" y1="358.1" x2="405.6" y2="358.1" stroke="#333333" stroke-width="1.3"/>
<text x="397" y="363.77" font-size="13" text-anchor="end" fill="#6699F5">200</text>
<line x1="655.6" y1="265.6" x2="660.4" y2="265.6" stroke="#333333" stroke-width="1.3"/>
<text x="662.9" y="271.27" font-size="13" text-anchor="start" fill="#EC6262">8</text>
<line x1="655.6" y1="315.8" x2="660.4" y2="315.8" stroke="#333333" stroke-width="1.3"/>
<text x="662.9" y="321.47" font-size="13" text-anchor="start" fill="#EC6262">4</text>
<line x1="655.6" y1="366" x2="660.4" y2="366" stroke="#333333" stroke-width="1.3"/>
<text x="662.9" y="371.67" font-size="13" text-anchor="start" fill="#EC6262">0</text>
<line x1="437.1" y1="385.5" x2="437.1" y2="390.3" stroke="#333333" stroke-width="1.3"/>
<text x="437.7" y="404.97" font-size="13" text-anchor="end" fill="#1a1a1a">1990</text>
<line x1="506.1" y1="385.5" x2="506.1" y2="390.3" stroke="#333333" stroke-width="1.3"/>
<text x="506.7" y="404.97" font-size="13" text-anchor="end" fill="#1a1a1a">2000</text>
<line x1="575.1" y1="385.5" x2="575.1" y2="390.3" stroke="#333333" stroke-width="1.3"/>
<text x="575.7" y="404.97" font-size="13" text-anchor="end" fill="#1a1a1a">2010</text>
<line x1="644.1" y1="385.5" x2="644.1" y2="390.3" stroke="#333333" stroke-width="1.3"/>
<text x="644.7" y="404.97" font-size="13" text-anchor="end" fill="#1a1a1a">2020</text>
<text x="529.8" y="424.69" font-size="14.5" text-anchor="middle" fill="#1a1a1a">Year</text>
<text transform="translate(361.2,305.95) rotate(-90)" x="0" y="4.99" font-size="14.5" text-anchor="middle" fill="#1a1a1a">P (mm)</text>
<text transform="translate(679.8,305.6) rotate(90)" x="0" y="4.99" font-size="14.5" text-anchor="middle" fill="#EC6262" letter-spacing="-0.6">T (°C)</text>
<text x="352.2" y="224.3" font-size="19" font-weight="bold" fill="#000">d</text>
<rect x="55.4" y="444" width="249.9" height="159.3" fill="#fff" stroke="none" stroke-width="0"/>
<line x1="97.9" y1="444" x2="97.9" y2="603.3" stroke="#F2F2F2" stroke-width="0.9"/>
<line x1="161.7" y1="444" x2="161.7" y2="603.3" stroke="#F2F2F2" stroke-width="0.9"/>
<line x1="225.5" y1="444" x2="225.5" y2="603.3" stroke="#F2F2F2" stroke-width="0.9"/>
<line x1="289.3" y1="444" x2="289.3" y2="603.3" stroke="#F2F2F2" stroke-width="0.9"/>
<line x1="55.4" y1="581.38" x2="305.3" y2="581.38" stroke="#F2F2F2" stroke-width="0.9"/>
<line x1="55.4" y1="550.94" x2="305.3" y2="550.94" stroke="#F2F2F2" stroke-width="0.9"/>
<line x1="55.4" y1="520.5" x2="305.3" y2="520.5" stroke="#F2F2F2" stroke-width="0.9"/>
<line x1="55.4" y1="490.06" x2="305.3" y2="490.06" stroke="#F2F2F2" stroke-width="0.9"/>
<line x1="55.4" y1="459.62" x2="305.3" y2="459.62" stroke="#F2F2F2" stroke-width="0.9"/>
<line x1="66" y1="444" x2="66" y2="603.3" stroke="#EBEBEB" stroke-width="1.3"/>
<line x1="129.8" y1="444" x2="129.8" y2="603.3" stroke="#EBEBEB" stroke-width="1.3"/>
<line x1="193.6" y1="444" x2="193.6" y2="603.3" stroke="#EBEBEB" stroke-width="1.3"/>
<line x1="257.4" y1="444" x2="257.4" y2="603.3" stroke="#EBEBEB" stroke-width="1.3"/>
<line x1="55.4" y1="596.6" x2="305.3" y2="596.6" stroke="#EBEBEB" stroke-width="1.3"/>
<line x1="55.4" y1="566.16" x2="305.3" y2="566.16" stroke="#EBEBEB" stroke-width="1.3"/>
<line x1="55.4" y1="535.72" x2="305.3" y2="535.72" stroke="#EBEBEB" stroke-width="1.3"/>
<line x1="55.4" y1="505.28" x2="305.3" y2="505.28" stroke="#EBEBEB" stroke-width="1.3"/>
<line x1="55.4" y1="474.84" x2="305.3" y2="474.84" stroke="#EBEBEB" stroke-width="1.3"/>
<line x1="55.4" y1="444.4" x2="305.3" y2="444.4" stroke="#EBEBEB" stroke-width="1.3"/>
<circle cx="151.49" cy="520.69" r="3.6" fill="#440154"/>
<circle cx="158.28" cy="518.98" r="3.6" fill="#440154"/>
<circle cx="164.87" cy="520.38" r="3.6" fill="#440154"/>
<circle cx="166.75" cy="528.04" r="3.6" fill="#440154"/>
<circle cx="168.83" cy="518.16" r="3.6" fill="#440154"/>
<circle cx="169.82" cy="520.6" r="3.6" fill="#440154"/>
<circle cx="169.93" cy="525.14" r="3.6" fill="#440154"/>
<circle cx="171.08" cy="522.51" r="3.6" fill="#440154"/>
<circle cx="171.56" cy="534.22" r="3.6" fill="#440154"/>
<circle cx="171.65" cy="527.4" r="3.6" fill="#440154"/>
<circle cx="173.25" cy="525.36" r="3.6" fill="#440154"/>
<circle cx="173.66" cy="531.65" r="3.6" fill="#440154"/>
<circle cx="174.12" cy="518.45" r="3.6" fill="#440154"/>
<circle cx="174.14" cy="523.17" r="3.6" fill="#440154"/>
<circle cx="176.81" cy="527.96" r="3.6" fill="#440154"/>
<circle cx="177.33" cy="525.25" r="3.6" fill="#440154"/>
<circle cx="177.4" cy="520.76" r="3.6" fill="#440154"/>
<circle cx="177.52" cy="518.58" r="3.6" fill="#440154"/>
<circle cx="177.72" cy="532.41" r="3.6" fill="#440154"/>
<circle cx="178.56" cy="516.85" r="3.6" fill="#440154"/>
<circle cx="179.21" cy="518.94" r="3.6" fill="#440154"/>
<circle cx="181.81" cy="527.53" r="3.6" fill="#440154"/>
<circle cx="182.32" cy="519.16" r="3.6" fill="#440154"/>
<circle cx="182.65" cy="520.52" r="3.6" fill="#440154"/>
<circle cx="183.35" cy="539.09" r="3.6" fill="#440154"/>
<circle cx="183.45" cy="529.46" r="3.6" fill="#440154"/>
<circle cx="184.66" cy="527.77" r="3.6" fill="#440154"/>
<circle cx="185.45" cy="547.47" r="3.6" fill="#440154"/>
<circle cx="185.58" cy="521.17" r="3.6" fill="#440154"/>
<circle cx="186.43" cy="532.4" r="3.6" fill="#440154"/>
<circle cx="187" cy="522.98" r="3.6" fill="#440154"/>
<circle cx="187.58" cy="534.73" r="3.6" fill="#440154"/>
<circle cx="187.81" cy="520.45" r="3.6" fill="#440154"/>
<circle cx="189.25" cy="522.57" r="3.6" fill="#440154"/>
<circle cx="189.66" cy="570.13" r="3.6" fill="#440154"/>
<circle cx="190.43" cy="527.24" r="3.6" fill="#440154"/>
<circle cx="190.69" cy="557.04" r="3.6" fill="#440154"/>
<circle cx="190.7" cy="530.29" r="3.6" fill="#440154"/>
<circle cx="191.94" cy="533.85" r="3.6" fill="#440154"/>
<circle cx="192.5" cy="522.51" r="3.6" fill="#440154"/>
<circle cx="192.62" cy="520.75" r="3.6" fill="#440154"/>
<circle cx="192.7" cy="536.92" r="3.6" fill="#440154"/>
<circle cx="192.89" cy="525" r="3.6" fill="#440154"/>
<circle cx="193.85" cy="529.96" r="3.6" fill="#440154"/>
<circle cx="194.24" cy="516.91" r="3.6" fill="#440154"/>
<circle cx="194.48" cy="534.02" r="3.6" fill="#440154"/>
<circle cx="194.76" cy="519.14" r="3.6" fill="#440154"/>
<circle cx="194.88" cy="541.21" r="3.6" fill="#440154"/>
<circle cx="196.24" cy="561.37" r="3.6" fill="#440154"/>
<circle cx="196.94" cy="522.74" r="3.6" fill="#440154"/>
<circle cx="196.98" cy="558.81" r="3.6" fill="#440154"/>
<circle cx="197.02" cy="531.85" r="3.6" fill="#440154"/>
<circle cx="197.75" cy="513.99" r="3.6" fill="#440154"/>
<circle cx="198.1" cy="525.35" r="3.6" fill="#440154"/>
<circle cx="198.11" cy="543.15" r="3.6" fill="#440154"/>
<circle cx="198.28" cy="527.07" r="3.6" fill="#440154"/>
<circle cx="198.7" cy="559.59" r="3.6" fill="#440154"/>
<circle cx="198.78" cy="516.83" r="3.6" fill="#440154"/>
<circle cx="199.35" cy="541.02" r="3.6" fill="#440154"/>
<circle cx="199.41" cy="546" r="3.6" fill="#440154"/>
<circle cx="199.85" cy="554.35" r="3.6" fill="#440154"/>
<circle cx="200.11" cy="534.85" r="3.6" fill="#440154"/>
<circle cx="200.17" cy="536.4" r="3.6" fill="#440154"/>
<circle cx="200.18" cy="519.01" r="3.6" fill="#440154"/>
<circle cx="200.36" cy="527.21" r="3.6" fill="#440154"/>
<circle cx="201.03" cy="520.33" r="3.6" fill="#440154"/>
<circle cx="201.11" cy="531.56" r="3.6" fill="#440154"/>
<circle cx="201.28" cy="525.71" r="3.6" fill="#440154"/>
<circle cx="201.87" cy="513.86" r="3.6" fill="#440154"/>
<circle cx="202.17" cy="545.87" r="3.6" fill="#440154"/>
<circle cx="202.2" cy="541.01" r="3.6" fill="#440154"/>
<circle cx="202.24" cy="529.37" r="3.6" fill="#440154"/>
<circle cx="202.42" cy="536.8" r="3.6" fill="#440154"/>
<circle cx="202.59" cy="534.94" r="3.6" fill="#440154"/>
<circle cx="202.61" cy="552.14" r="3.6" fill="#440154"/>
<circle cx="202.8" cy="555.21" r="3.6" fill="#440154"/>
<circle cx="202.95" cy="549.78" r="3.6" fill="#440154"/>
<circle cx="203.17" cy="542.9" r="3.6" fill="#440154"/>
<circle cx="203.25" cy="528.15" r="3.6" fill="#440154"/>
<circle cx="203.3" cy="557.16" r="3.6" fill="#440154"/>
<circle cx="203.9" cy="547.89" r="3.6" fill="#440154"/>
<circle cx="204.69" cy="555.07" r="3.6" fill="#440154"/>
<circle cx="205.22" cy="541.4" r="3.6" fill="#440154"/>
<circle cx="205.53" cy="527.14" r="3.6" fill="#440154"/>
<circle cx="205.73" cy="533.88" r="3.6" fill="#440154"/>
<circle cx="205.99" cy="539.11" r="3.6" fill="#440154"/>
<circle cx="206.28" cy="543.26" r="3.6" fill="#440154"/>
<circle cx="206.39" cy="531.92" r="3.6" fill="#440154"/>
<circle cx="207.21" cy="545.63" r="3.6" fill="#440154"/>
<circle cx="207.31" cy="540.71" r="3.6" fill="#440154"/>
<circle cx="207.96" cy="534.28" r="3.6" fill="#440154"/>
<circle cx="208.2" cy="527.67" r="3.6" fill="#440154"/>
<circle cx="208.27" cy="543.7" r="3.6" fill="#440154"/>
<circle cx="208.41" cy="549.86" r="3.6" fill="#440154"/>
<circle cx="208.77" cy="547.88" r="3.6" fill="#440154"/>
<circle cx="209.77" cy="531.74" r="3.6" fill="#440154"/>
<circle cx="209.98" cy="534.96" r="3.6" fill="#440154"/>
<circle cx="210.72" cy="549.99" r="3.6" fill="#440154"/>
<circle cx="210.81" cy="553.06" r="3.6" fill="#440154"/>
<circle cx="210.83" cy="523.44" r="3.6" fill="#440154"/>
<circle cx="210.88" cy="518.23" r="3.6" fill="#440154"/>
<circle cx="211.16" cy="547.9" r="3.6" fill="#440154"/>
<circle cx="211.43" cy="525.02" r="3.6" fill="#440154"/>
<circle cx="211.8" cy="520.4" r="3.6" fill="#440154"/>
<circle cx="211.88" cy="530.46" r="3.6" fill="#440154"/>
<circle cx="211.89" cy="516.13" r="3.6" fill="#440154"/>
<circle cx="212.53" cy="532.13" r="3.6" fill="#440154"/>
<circle cx="212.56" cy="541.28" r="3.6" fill="#440154"/>
<circle cx="212.65" cy="513.94" r="3.6" fill="#440154"/>
<circle cx="212.75" cy="534.48" r="3.6" fill="#440154"/>
<circle cx="213.07" cy="536.93" r="3.6" fill="#440154"/>
<circle cx="213.17" cy="518.14" r="3.6" fill="#440154"/>
<circle cx="213.75" cy="538.89" r="3.6" fill="#440154"/>
<circle cx="214.23" cy="545.96" r="3.6" fill="#440154"/>
<circle cx="214.29" cy="521.43" r="3.6" fill="#440154"/>
<circle cx="214.7" cy="529.86" r="3.6" fill="#440154"/>
<circle cx="215.24" cy="537.04" r="3.6" fill="#440154"/>
<circle cx="215.42" cy="550.69" r="3.6" fill="#440154"/>
<circle cx="215.54" cy="541.75" r="3.6" fill="#440154"/>
<circle cx="215.81" cy="534.95" r="3.6" fill="#440154"/>
<circle cx="215.98" cy="523.39" r="3.6" fill="#440154"/>
<circle cx="216.42" cy="525.52" r="3.6" fill="#440154"/>
<circle cx="216.74" cy="521.21" r="3.6" fill="#440154"/>
<circle cx="217.39" cy="532.07" r="3.6" fill="#440154"/>
<circle cx="217.77" cy="529.32" r="3.6" fill="#440154"/>
<circle cx="217.92" cy="515.96" r="3.6" fill="#440154"/>
<circle cx="218.44" cy="534.28" r="3.6" fill="#440154"/>
<circle cx="218.91" cy="547.91" r="3.6" fill="#440154"/>
<circle cx="219.05" cy="527.27" r="3.6" fill="#440154"/>
<circle cx="219.79" cy="516.7" r="3.6" fill="#440154"/>
<circle cx="220.43" cy="541.79" r="3.6" fill="#440154"/>
<circle cx="220.78" cy="534" r="3.6" fill="#440154"/>
<circle cx="221.33" cy="527.49" r="3.6" fill="#440154"/>
<circle cx="221.41" cy="536.66" r="3.6" fill="#440154"/>
<circle cx="222.33" cy="525.7" r="3.6" fill="#440154"/>
<circle cx="222.69" cy="541.23" r="3.6" fill="#440154"/>
<circle cx="222.74" cy="545.77" r="3.6" fill="#440154"/>
<circle cx="224" cy="535" r="3.6" fill="#440154"/>
<circle cx="224.76" cy="520.43" r="3.6" fill="#440154"/>
<circle cx="224.93" cy="529.85" r="3.6" fill="#440154"/>
<circle cx="225" cy="543.8" r="3.6" fill="#440154"/>
<circle cx="225.27" cy="532.3" r="3.6" fill="#440154"/>
<circle cx="187.04" cy="552.94" r="3.6" fill="#440154"/>
<circle cx="198.28" cy="520.28" r="3.6" fill="#440154"/>
<circle cx="208.08" cy="536.31" r="3.6" fill="#440154"/>
<circle cx="185.8" cy="539.39" r="3.6" fill="#440154"/>
<circle cx="211.73" cy="546.03" r="3.6" fill="#440154"/>
<circle cx="182.05" cy="522.79" r="3.6" fill="#440154"/>
<circle cx="161.49" cy="522.79" r="3.6" fill="#440154"/>
<circle cx="147.79" cy="522.62" r="3.6" fill="#440154"/>
<circle cx="205.63" cy="537.04" r="3.6" fill="#440154"/>
<circle cx="195.17" cy="520.76" r="3.6" fill="#440154"/>
<circle cx="178.07" cy="545.25" r="3.6" fill="#440154"/>
<circle cx="194.15" cy="532.1" r="3.6" fill="#440154"/>
<circle cx="211.97" cy="538.95" r="3.6" fill="#440154"/>
<circle cx="160" cy="525" r="3.6" fill="#440154"/>
<circle cx="195.88" cy="539.44" r="3.6" fill="#440154"/>
<circle cx="225.71" cy="533.85" r="3.6" fill="#440154"/>
<circle cx="191.84" cy="516.77" r="3.6" fill="#440154"/>
<circle cx="152.05" cy="525.75" r="3.6" fill="#440154"/>
<circle cx="204.32" cy="545.18" r="3.6" fill="#440154"/>
<circle cx="192.01" cy="541.24" r="3.6" fill="#440154"/>
<circle cx="199.66" cy="532.4" r="3.6" fill="#440154"/>
<circle cx="159.01" cy="527.53" r="3.6" fill="#440154"/>
<circle cx="206.81" cy="516.11" r="3.6" fill="#440154"/>
<circle cx="196.9" cy="541.41" r="3.6" fill="#440154"/>
<circle cx="208.8" cy="525.89" r="3.6" fill="#440154"/>
<circle cx="186.58" cy="572.81" r="3.6" fill="#440155"/>
<circle cx="192.66" cy="547.43" r="3.6" fill="#440255"/>
<circle cx="184.32" cy="554.43" r="3.6" fill="#440255"/>
<circle cx="186.84" cy="536.75" r="3.6" fill="#440255"/>
<circle cx="174.46" cy="527.14" r="3.6" fill="#440255"/>
<circle cx="202.74" cy="523.47" r="3.6" fill="#440255"/>
<circle cx="218.65" cy="518.75" r="3.6" fill="#440255"/>
<circle cx="218.5" cy="550.47" r="3.6" fill="#440255"/>
<circle cx="167.32" cy="531.55" r="3.6" fill="#440255"/>
<circle cx="185.74" cy="525.02" r="3.6" fill="#440255"/>
<circle cx="143.46" cy="527.85" r="3.6" fill="#440255"/>
<circle cx="208.37" cy="539.04" r="3.6" fill="#440255"/>
<circle cx="206.31" cy="525.76" r="3.6" fill="#440255"/>
<circle cx="204.88" cy="549.77" r="3.6" fill="#440255"/>
<circle cx="156.55" cy="518.77" r="3.6" fill="#440255"/>
<circle cx="224.85" cy="525.18" r="3.6" fill="#440255"/>
<circle cx="178.82" cy="552.12" r="3.6" fill="#440255"/>
<circle cx="189.12" cy="532.42" r="3.6" fill="#440255"/>
<circle cx="193.26" cy="564.15" r="3.6" fill="#440255"/>
<circle cx="162.07" cy="525.27" r="3.6" fill="#440255"/>
<circle cx="188.73" cy="524.87" r="3.6" fill="#440255"/>
<circle cx="206.08" cy="556.81" r="3.6" fill="#440255"/>
<circle cx="197.08" cy="536.8" r="3.6" fill="#440255"/>
<circle cx="205.89" cy="548.17" r="3.6" fill="#440255"/>
<circle cx="204.78" cy="522.87" r="3.6" fill="#440255"/>
<circle cx="193.44" cy="538.66" r="3.6" fill="#440255"/>
<circle cx="217.74" cy="545.43" r="3.6" fill="#440255"/>
<circle cx="172.46" cy="538.41" r="3.6" fill="#440255"/>
<circle cx="169.33" cy="527.79" r="3.6" fill="#440255"/>
<circle cx="187.2" cy="527.83" r="3.6" fill="#440255"/>
<circle cx="199.32" cy="513.68" r="3.6" fill="#440255"/>
<circle cx="220.78" cy="517.99" r="3.6" fill="#440255"/>
<circle cx="184.5" cy="537.16" r="3.6" fill="#440255"/>
<circle cx="217.04" cy="547.58" r="3.6" fill="#440256"/>
<circle cx="190.79" cy="538.65" r="3.6" fill="#440256"/>
<circle cx="194.42" cy="561.58" r="3.6" fill="#440256"/>
<circle cx="149.71" cy="525.73" r="3.6" fill="#440256"/>
<circle cx="207.53" cy="522.55" r="3.6" fill="#440256"/>
<circle cx="204.45" cy="530.05" r="3.6" fill="#440356"/>
<circle cx="151.03" cy="527.51" r="3.6" fill="#440356"/>
<circle cx="206.32" cy="530.01" r="3.6" fill="#440356"/>
<circle cx="183.12" cy="531.6" r="3.6" fill="#440356"/>
<circle cx="180.93" cy="541.1" r="3.6" fill="#440356"/>
<circle cx="209.59" cy="546.23" r="3.6" fill="#440356"/>
<circle cx="216.42" cy="543.86" r="3.6" fill="#440356"/>
<circle cx="220.11" cy="531.72" r="3.6" fill="#440356"/>
<circle cx="162.89" cy="530.35" r="3.6" fill="#440356"/>
<circle cx="189.59" cy="568.34" r="3.6" fill="#440356"/>
<circle cx="204.17" cy="538.68" r="3.6" fill="#440356"/>
<circle cx="166.33" cy="523.54" r="3.6" fill="#440356"/>
<circle cx="194.22" cy="514.54" r="3.6" fill="#440356"/>
<circle cx="175.87" cy="541.6" r="3.6" fill="#440356"/>
<circle cx="179.68" cy="534.39" r="3.6" fill="#440356"/>
<circle cx="221.65" cy="521.38" r="3.6" fill="#440356"/>
<circle cx="173.6" cy="537.04" r="3.6" fill="#440356"/>
<circle cx="190.8" cy="532.3" r="3.6" fill="#440356"/>
<circle cx="219.45" cy="543.05" r="3.6" fill="#440356"/>
<circle cx="179.1" cy="523.62" r="3.6" fill="#440356"/>
<circle cx="185.94" cy="541.27" r="3.6" fill="#440356"/>
<circle cx="172.99" cy="541.7" r="3.6" fill="#440356"/>
<circle cx="184.85" cy="522.55" r="3.6" fill="#440356"/>
<circle cx="197.76" cy="554.42" r="3.6" fill="#440356"/>
<circle cx="189.37" cy="550.3" r="3.6" fill="#440356"/>
<circle cx="222.89" cy="522.77" r="3.6" fill="#440356"/>
<circle cx="186.47" cy="554.48" r="3.6" fill="#440356"/>
<circle cx="180.42" cy="525.69" r="3.6" fill="#440356"/>
<circle cx="213.25" cy="552" r="3.6" fill="#440356"/>
<circle cx="178.78" cy="537.07" r="3.6" fill="#440356"/>
<circle cx="204.56" cy="516.16" r="3.6" fill="#440356"/>
<circle cx="194.74" cy="554.52" r="3.6" fill="#440356"/>
<circle cx="193.66" cy="558.78" r="3.6" fill="#440356"/>
<circle cx="210.97" cy="527.63" r="3.6" fill="#440357"/>
<circle cx="191.01" cy="563.79" r="3.6" fill="#440357"/>
<circle cx="181.92" cy="568.54" r="3.6" fill="#440357"/>
<circle cx="210.8" cy="543.18" r="3.6" fill="#440357"/>
<circle cx="162.17" cy="520.28" r="3.6" fill="#440357"/>
<circle cx="182.91" cy="525.6" r="3.6" fill="#440357"/>
<circle cx="220.15" cy="530.03" r="3.6" fill="#440457"/>
<circle cx="209.96" cy="554.75" r="3.6" fill="#440457"/>
<circle cx="210.06" cy="536.95" r="3.6" fill="#440457"/>
<circle cx="179.04" cy="554.66" r="3.6" fill="#440457"/>
<circle cx="167.23" cy="525.62" r="3.6" fill="#440457"/>
<circle cx="218.99" cy="525.7" r="3.6" fill="#440457"/>
<circle cx="210.62" cy="514.35" r="3.6" fill="#440457"/>
<circle cx="222.29" cy="530.32" r="3.6" fill="#440457"/>
<circle cx="207.66" cy="518.69" r="3.6" fill="#440457"/>
<circle cx="218.7" cy="521.41" r="3.6" fill="#440457"/>
<circle cx="184.3" cy="575.45" r="3.6" fill="#440457"/>
<circle cx="141.3" cy="530.42" r="3.6" fill="#440457"/>
<circle cx="184.76" cy="571.08" r="3.6" fill="#440457"/>
<circle cx="179.77" cy="527.78" r="3.6" fill="#440457"/>
<circle cx="179.84" cy="549.79" r="3.6" fill="#440457"/>
<circle cx="206.08" cy="520.3" r="3.6" fill="#440457"/>
<circle cx="188.65" cy="546.01" r="3.6" fill="#440457"/>
<circle cx="194.98" cy="527.61" r="3.6" fill="#440457"/>
<circle cx="203.74" cy="521.17" r="3.6" fill="#440457"/>
<circle cx="186.08" cy="529.88" r="3.6" fill="#440457"/>
<circle cx="224.03" cy="527.17" r="3.6" fill="#440457"/>
<circle cx="214.15" cy="548.37" r="3.6" fill="#440457"/>
<circle cx="177.97" cy="529.45" r="3.6" fill="#440457"/>
<circle cx="195.24" cy="543.84" r="3.6" fill="#440457"/>
<circle cx="186.9" cy="567.82" r="3.6" fill="#440457"/>
<circle cx="183.4" cy="587.4" r="3.6" fill="#440457"/>
<circle cx="174.66" cy="543.9" r="3.6" fill="#440457"/>
<circle cx="203.51" cy="525.35" r="3.6" fill="#440458"/>
<circle cx="156.93" cy="521.31" r="3.6" fill="#440458"/>
<circle cx="172.19" cy="518.67" r="3.6" fill="#440458"/>
<circle cx="213.22" cy="522.5" r="3.6" fill="#440458"/>
<circle cx="221.58" cy="538.82" r="3.6" fill="#440458"/>
<circle cx="183.62" cy="566.27" r="3.6" fill="#440458"/>
<circle cx="196.49" cy="546.23" r="3.6" fill="#440458"/>
<circle cx="213.48" cy="528.01" r="3.6" fill="#440458"/>
<circle cx="164.24" cy="534.25" r="3.6" fill="#440458"/>
<circle cx="214.53" cy="525.36" r="3.6" fill="#440458"/>
<circle cx="201.05" cy="538.85" r="3.6" fill="#440458"/>
<circle cx="198.57" cy="538.63" r="3.6" fill="#440458"/>
<circle cx="220.71" cy="522.77" r="3.6" fill="#440458"/>
<circle cx="218.9" cy="558.2" r="3.6" fill="#440458"/>
<circle cx="196.94" cy="533.87" r="3.6" fill="#440458"/>
<circle cx="166.92" cy="538.84" r="3.6" fill="#440458"/>
<circle cx="197.83" cy="519.09" r="3.6" fill="#440558"/>
<circle cx="194.83" cy="523.63" r="3.6" fill="#440558"/>
<circle cx="213.47" cy="550.1" r="3.6" fill="#440558"/>
<circle cx="170.53" cy="530.17" r="3.6" fill="#440558"/>
<circle cx="205.87" cy="519.11" r="3.6" fill="#440558"/>
<circle cx="207.95" cy="554.5" r="3.6" fill="#440558"/>
<circle cx="136.6" cy="531.93" r="3.6" fill="#440558"/>
<circle cx="187.06" cy="557.32" r="3.6" fill="#440558"/>
<circle cx="179.49" cy="520.98" r="3.6" fill="#440558"/>
<circle cx="207.32" cy="512.36" r="3.6" fill="#440558"/>
<circle cx="172.63" cy="546.14" r="3.6" fill="#440558"/>
<circle cx="154.65" cy="525.1" r="3.6" fill="#440558"/>
<circle cx="168.45" cy="536.94" r="3.6" fill="#440558"/>
<circle cx="188.23" cy="516.18" r="3.6" fill="#440558"/>
<circle cx="184.07" cy="546.02" r="3.6" fill="#440558"/>
<circle cx="202.05" cy="515.75" r="3.6" fill="#440558"/>
<circle cx="200.1" cy="523.1" r="3.6" fill="#440558"/>
<circle cx="222.86" cy="531.98" r="3.6" fill="#440558"/>
<circle cx="175.71" cy="525.5" r="3.6" fill="#440558"/>
<circle cx="200.92" cy="556.9" r="3.6" fill="#440558"/>
<circle cx="180.88" cy="529.35" r="3.6" fill="#440558"/>
<circle cx="153.27" cy="523.2" r="3.6" fill="#440558"/>
<circle cx="160.07" cy="532.04" r="3.6" fill="#440558"/>
<circle cx="176.39" cy="523.27" r="3.6" fill="#440558"/>
<circle cx="209.71" cy="530.4" r="3.6" fill="#440558"/>
<circle cx="192.7" cy="527.95" r="3.6" fill="#440559"/>
<circle cx="165.63" cy="530.29" r="3.6" fill="#440559"/>
<circle cx="209.73" cy="541.07" r="3.6" fill="#440559"/>
<circle cx="223.52" cy="518.79" r="3.6" fill="#440559"/>
<circle cx="186.31" cy="561.09" r="3.6" fill="#440559"/>
<circle cx="209.16" cy="515.71" r="3.6" fill="#440559"/>
<circle cx="218.12" cy="523.39" r="3.6" fill="#440559"/>
<circle cx="176.59" cy="536.24" r="3.6" fill="#440559"/>
<circle cx="190.43" cy="518.02" r="3.6" fill="#440559"/>
<circle cx="155.41" cy="523.24" r="3.6" fill="#440559"/>
<circle cx="174.06" cy="533.83" r="3.6" fill="#440559"/>
<circle cx="208.67" cy="520.69" r="3.6" fill="#440559"/>
<circle cx="189.34" cy="536.28" r="3.6" fill="#440559"/>
<circle cx="177.95" cy="564.03" r="3.6" fill="#440559"/>
<circle cx="192.81" cy="549.78" r="3.6" fill="#440559"/>
<circle cx="137.56" cy="527.49" r="3.6" fill="#440659"/>
<circle cx="191.28" cy="524.96" r="3.6" fill="#440659"/>
<circle cx="197.08" cy="516.11" r="3.6" fill="#440659"/>
<circle cx="218.18" cy="537.08" r="3.6" fill="#440659"/>
<circle cx="177.96" cy="561.6" r="3.6" fill="#440659"/>
<circle cx="175.75" cy="529.6" r="3.6" fill="#440659"/>
<circle cx="149.79" cy="532.65" r="3.6" fill="#440659"/>
<circle cx="215.31" cy="515.86" r="3.6" fill="#440659"/>
<circle cx="130.6" cy="523" r="3.6" fill="#440659"/>
<circle cx="205.45" cy="552.94" r="3.6" fill="#440659"/>
<circle cx="139.45" cy="529.3" r="3.6" fill="#450659"/>
<circle cx="141.99" cy="525.89" r="3.6" fill="#450659"/>
<circle cx="187.72" cy="518.98" r="3.6" fill="#450659"/>
<circle cx="169.18" cy="533.99" r="3.6" fill="#450659"/>
<circle cx="194.64" cy="551.93" r="3.6" fill="#450659"/>
<circle cx="156.61" cy="524.88" r="3.6" fill="#450659"/>
<circle cx="181.92" cy="534.12" r="3.6" fill="#450659"/>
<circle cx="158.22" cy="536.51" r="3.6" fill="#450659"/>
<circle cx="196.69" cy="530.29" r="3.6" fill="#450659"/>
<circle cx="142.44" cy="523.28" r="3.6" fill="#450659"/>
<circle cx="177.23" cy="552.6" r="3.6" fill="#45065a"/>
<circle cx="215.58" cy="518.28" r="3.6" fill="#45065a"/>
<circle cx="187.96" cy="542.99" r="3.6" fill="#45065a"/>
<circle cx="202.87" cy="518.28" r="3.6" fill="#45065a"/>
<circle cx="208.11" cy="552.14" r="3.6" fill="#45065a"/>
<circle cx="196.41" cy="525.93" r="3.6" fill="#45065a"/>
<circle cx="214.29" cy="543.01" r="3.6" fill="#45065a"/>
<circle cx="204.47" cy="513.73" r="3.6" fill="#45065a"/>
<circle cx="186.79" cy="574.64" r="3.6" fill="#45065a"/>
<circle cx="221.51" cy="543.72" r="3.6" fill="#45065a"/>
<circle cx="172.44" cy="548.13" r="3.6" fill="#45065a"/>
<circle cx="182.01" cy="536.29" r="3.6" fill="#45065a"/>
<circle cx="194.61" cy="536.16" r="3.6" fill="#45065a"/>
<circle cx="184.25" cy="518.54" r="3.6" fill="#45065a"/>
<circle cx="172.17" cy="520.93" r="3.6" fill="#45065a"/>
<circle cx="181.33" cy="545.37" r="3.6" fill="#45065a"/>
<circle cx="194.3" cy="575.9" r="3.6" fill="#45065a"/>
<circle cx="216.67" cy="538.51" r="3.6" fill="#45065a"/>
<circle cx="154.76" cy="532.25" r="3.6" fill="#45065a"/>
<circle cx="190.43" cy="520.36" r="3.6" fill="#45065a"/>
<circle cx="217.67" cy="541.12" r="3.6" fill="#45065a"/>
<circle cx="218.77" cy="538.49" r="3.6" fill="#45075a"/>
<circle cx="170.31" cy="516.85" r="3.6" fill="#45075a"/>
<circle cx="204.48" cy="532.52" r="3.6" fill="#45075a"/>
<circle cx="168.05" cy="540.77" r="3.6" fill="#45075a"/>
<circle cx="214.17" cy="531.99" r="3.6" fill="#45075a"/>
<circle cx="185.19" cy="550.51" r="3.6" fill="#45075a"/>
<circle cx="207.27" cy="514.13" r="3.6" fill="#45075a"/>
<circle cx="174.94" cy="538.94" r="3.6" fill="#45075a"/>
<circle cx="152.1" cy="529.47" r="3.6" fill="#45075a"/>
<circle cx="198.94" cy="529.78" r="3.6" fill="#45075a"/>
<circle cx="192.97" cy="557.62" r="3.6" fill="#45075a"/>
<circle cx="223" cy="537.16" r="3.6" fill="#45075a"/>
<circle cx="160.22" cy="530.22" r="3.6" fill="#45075a"/>
<circle cx="197.36" cy="549.87" r="3.6" fill="#45075a"/>
<circle cx="173.94" cy="554.65" r="3.6" fill="#45075a"/>
<circle cx="192.28" cy="518.12" r="3.6" fill="#45075a"/>
<circle cx="198.62" cy="547.38" r="3.6" fill="#45075a"/>
<circle cx="224.17" cy="538.62" r="3.6" fill="#45075a"/>
<circle cx="170.91" cy="545.46" r="3.6" fill="#45075a"/>
<circle cx="190.49" cy="548.54" r="3.6" fill="#45075a"/>
<circle cx="215.94" cy="527.51" r="3.6" fill="#45075a"/>
<circle cx="139.95" cy="527.5" r="3.6" fill="#45075a"/>
<circle cx="220.03" cy="546.28" r="3.6" fill="#45075b"/>
<circle cx="185.85" cy="543.2" r="3.6" fill="#45075b"/>
<circle cx="170.97" cy="541.29" r="3.6" fill="#45075b"/>
<circle cx="184.78" cy="534.32" r="3.6" fill="#45075b"/>
<circle cx="153.61" cy="520.53" r="3.6" fill="#45075b"/>
<circle cx="191.72" cy="558.83" r="3.6" fill="#45075b"/>
<circle cx="174.77" cy="521.02" r="3.6" fill="#45075b"/>
<circle cx="175.55" cy="561.72" r="3.6" fill="#45075b"/>
<circle cx="201.36" cy="548.4" r="3.6" fill="#45075b"/>
<circle cx="155.72" cy="536.38" r="3.6" fill="#45075b"/>
<circle cx="174.54" cy="550.05" r="3.6" fill="#45075b"/>
<circle cx="186.7" cy="550.36" r="3.6" fill="#45075b"/>
<circle cx="180.1" cy="556.82" r="3.6" fill="#45075b"/>
<circle cx="171.33" cy="537.24" r="3.6" fill="#45075b"/>
<circle cx="150.27" cy="534.04" r="3.6" fill="#45075b"/>
<circle cx="200.52" cy="543.19" r="3.6" fill="#45075b"/>
<circle cx="175.91" cy="545.17" r="3.6" fill="#45075b"/>
<circle cx="181.39" cy="559.49" r="3.6" fill="#45075b"/>
<circle cx="163.15" cy="522.61" r="3.6" fill="#45075b"/>
<circle cx="177.17" cy="550.46" r="3.6" fill="#45075b"/>
<circle cx="188.74" cy="530.32" r="3.6" fill="#45075b"/>
<circle cx="193.48" cy="546.25" r="3.6" fill="#45075b"/>
<circle cx="195.14" cy="557.18" r="3.6" fill="#45075b"/>
<circle cx="186.54" cy="565.93" r="3.6" fill="#45075b"/>
<circle cx="179.78" cy="543.06" r="3.6" fill="#45075b"/>
<circle cx="149.37" cy="530.21" r="3.6" fill="#45085b"/>
<circle cx="173.01" cy="530.34" r="3.6" fill="#45085b"/>
<circle cx="180.59" cy="532.42" r="3.6" fill="#45085b"/>
<circle cx="192.97" cy="542.93" r="3.6" fill="#45085b"/>
<circle cx="153.8" cy="528.11" r="3.6" fill="#45085b"/>
<circle cx="189.01" cy="566.29" r="3.6" fill="#45085b"/>
<circle cx="189.29" cy="554.44" r="3.6" fill="#45085b"/>
<circle cx="197.13" cy="552.22" r="3.6" fill="#45085b"/>
<circle cx="130.96" cy="530.28" r="3.6" fill="#45085b"/>
<circle cx="172.55" cy="543.12" r="3.6" fill="#45085b"/>
<circle cx="132.15" cy="534.71" r="3.6" fill="#45085c"/>
<circle cx="136.26" cy="530.28" r="3.6" fill="#45085c"/>
<circle cx="129.8" cy="534.05" r="3.6" fill="#45085c"/>
<circle cx="158.71" cy="520.91" r="3.6" fill="#45085c"/>
<circle cx="169.38" cy="543.32" r="3.6" fill="#45085c"/>
<circle cx="162.22" cy="532.32" r="3.6" fill="#45085c"/>
<circle cx="192.81" cy="552.23" r="3.6" fill="#45085c"/>
<circle cx="169.1" cy="522.98" r="3.6" fill="#45085c"/>
<circle cx="146.61" cy="529.45" r="3.6" fill="#45085c"/>
<circle cx="180.79" cy="539.26" r="3.6" fill="#45085c"/>
<circle cx="183.89" cy="559.17" r="3.6" fill="#45085c"/>
<circle cx="142.42" cy="531.61" r="3.6" fill="#45085c"/>
<circle cx="165.77" cy="534.57" r="3.6" fill="#45085c"/>
<circle cx="200.19" cy="550.65" r="3.6" fill="#45085c"/>
<circle cx="163.5" cy="541.19" r="3.6" fill="#45085c"/>
<circle cx="177.05" cy="538.5" r="3.6" fill="#45085c"/>
<circle cx="176.27" cy="559.22" r="3.6" fill="#45085c"/>
<circle cx="143.62" cy="525" r="3.6" fill="#45085c"/>
<circle cx="158.34" cy="522.66" r="3.6" fill="#45085c"/>
<circle cx="192.07" cy="566.07" r="3.6" fill="#45095c"/>
<circle cx="191.77" cy="545.45" r="3.6" fill="#45095c"/>
<circle cx="190.02" cy="534.96" r="3.6" fill="#45095c"/>
<circle cx="195.68" cy="547.61" r="3.6" fill="#45095c"/>
<circle cx="189.08" cy="541.7" r="3.6" fill="#45095d"/>
<circle cx="200.37" cy="552.16" r="3.6" fill="#45095d"/>
<circle cx="179.74" cy="568.37" r="3.6" fill="#45095d"/>
<circle cx="189.21" cy="552.48" r="3.6" fill="#45095d"/>
<circle cx="146.64" cy="532.52" r="3.6" fill="#45095d"/>
<circle cx="135.48" cy="527.15" r="3.6" fill="#45095d"/>
<circle cx="198.36" cy="556.88" r="3.6" fill="#45095d"/>
<circle cx="178.39" cy="559.3" r="3.6" fill="#45095d"/>
<circle cx="145.71" cy="527.78" r="3.6" fill="#45095d"/>
<circle cx="170.72" cy="531.69" r="3.6" fill="#45095d"/>
<circle cx="159.8" cy="539.35" r="3.6" fill="#45095d"/>
<circle cx="188.64" cy="564.41" r="3.6" fill="#45095d"/>
<circle cx="173.96" cy="568.7" r="3.6" fill="#45095d"/>
<circle cx="140.57" cy="534.09" r="3.6" fill="#45095d"/>
<circle cx="179.09" cy="541.74" r="3.6" fill="#45095d"/>
<circle cx="148.27" cy="527.19" r="3.6" fill="#45095d"/>
<circle cx="175.12" cy="576.96" r="3.6" fill="#45095d"/>
<circle cx="167.18" cy="520.89" r="3.6" fill="#45095d"/>
<circle cx="164.61" cy="544.01" r="3.6" fill="#45095d"/>
<circle cx="195.56" cy="550.45" r="3.6" fill="#45095d"/>
<circle cx="190.53" cy="543.32" r="3.6" fill="#45095d"/>
<circle cx="182.07" cy="555.3" r="3.6" fill="#45095d"/>
<circle cx="182.52" cy="543.08" r="3.6" fill="#45095d"/>
<circle cx="171.45" cy="554.24" r="3.6" fill="#45095d"/>
<circle cx="187.9" cy="570.54" r="3.6" fill="#450a5d"/>
<circle cx="191.8" cy="562.15" r="3.6" fill="#450a5d"/>
<circle cx="181.9" cy="550.52" r="3.6" fill="#450a5d"/>
<circle cx="156.03" cy="527.71" r="3.6" fill="#450a5d"/>
<circle cx="184.38" cy="540.6" r="3.6" fill="#450a5e"/>
<circle cx="166.6" cy="550.69" r="3.6" fill="#450a5e"/>
<circle cx="179.85" cy="563.63" r="3.6" fill="#450a5e"/>
<circle cx="175.19" cy="582.26" r="3.6" fill="#450a5e"/>
<circle cx="148.01" cy="534.51" r="3.6" fill="#450a5e"/>
<circle cx="164.32" cy="525.07" r="3.6" fill="#450a5e"/>
<circle cx="191.61" cy="555.08" r="3.6" fill="#450a5e"/>
<circle cx="180.97" cy="579.97" r="3.6" fill="#450a5e"/>
<circle cx="177.47" cy="543.81" r="3.6" fill="#450a5e"/>
<circle cx="188.49" cy="538.37" r="3.6" fill="#450a5e"/>
<circle cx="182.34" cy="547.74" r="3.6" fill="#450a5e"/>
<circle cx="183.77" cy="561.47" r="3.6" fill="#450a5e"/>
<circle cx="155.68" cy="534.48" r="3.6" fill="#450a5e"/>
<circle cx="165.6" cy="545.53" r="3.6" fill="#450a5e"/>
<circle cx="142.97" cy="536.45" r="3.6" fill="#450a5e"/>
<circle cx="188.18" cy="547.57" r="3.6" fill="#450a5e"/>
<circle cx="177.75" cy="556.49" r="3.6" fill="#450a5e"/>
<circle cx="180.32" cy="570.36" r="3.6" fill="#450a5e"/>
<circle cx="169.98" cy="538.77" r="3.6" fill="#450a5e"/>
<circle cx="180.41" cy="573.15" r="3.6" fill="#450a5e"/>
<circle cx="160.27" cy="541.54" r="3.6" fill="#450a5e"/>
<circle cx="164.29" cy="536.19" r="3.6" fill="#450a5e"/>
<circle cx="122.15" cy="536.82" r="3.6" fill="#450a5e"/>
<circle cx="137.5" cy="537.08" r="3.6" fill="#450a5e"/>
<circle cx="127.37" cy="534.62" r="3.6" fill="#450a5e"/>
<circle cx="138.37" cy="525.8" r="3.6" fill="#450a5e"/>
<circle cx="160.98" cy="527.89" r="3.6" fill="#450b5f"/>
<circle cx="150.39" cy="522.77" r="3.6" fill="#450b5f"/>
<circle cx="164.37" cy="527.95" r="3.6" fill="#450b5f"/>
<circle cx="175.34" cy="548.22" r="3.6" fill="#450b5f"/>
<circle cx="139.22" cy="532.31" r="3.6" fill="#450b5f"/>
<circle cx="170.55" cy="559.7" r="3.6" fill="#450b5f"/>
<circle cx="184.36" cy="552.83" r="3.6" fill="#450b5f"/>
<circle cx="176.14" cy="531.7" r="3.6" fill="#450b5f"/>
<circle cx="164.95" cy="531.73" r="3.6" fill="#450b5f"/>
<circle cx="185.13" cy="563.61" r="3.6" fill="#450b5f"/>
<circle cx="155.37" cy="530.23" r="3.6" fill="#450b5f"/>
<circle cx="182.54" cy="575.35" r="3.6" fill="#450b5f"/>
<circle cx="167.53" cy="530.11" r="3.6" fill="#450b5f"/>
<circle cx="176.08" cy="534.99" r="3.6" fill="#450b5f"/>
<circle cx="152.23" cy="531.56" r="3.6" fill="#450b5f"/>
<circle cx="185.68" cy="545.95" r="3.6" fill="#450b5f"/>
<circle cx="178.45" cy="579.48" r="3.6" fill="#450b5f"/>
<circle cx="151.31" cy="538.73" r="3.6" fill="#450b5f"/>
<circle cx="180.43" cy="577.81" r="3.6" fill="#450b5f"/>
<circle cx="189.09" cy="561.1" r="3.6" fill="#450b5f"/>
<circle cx="168.69" cy="552.27" r="3.6" fill="#450b60"/>
<circle cx="157.09" cy="530.35" r="3.6" fill="#450b60"/>
<circle cx="174.25" cy="570.42" r="3.6" fill="#450b60"/>
<circle cx="144.58" cy="531.59" r="3.6" fill="#450c60"/>
<circle cx="169.32" cy="556.71" r="3.6" fill="#450c60"/>
<circle cx="188.86" cy="559.61" r="3.6" fill="#450c60"/>
<circle cx="182.64" cy="557.08" r="3.6" fill="#450c60"/>
<circle cx="180.4" cy="561.51" r="3.6" fill="#450c60"/>
<circle cx="161.49" cy="538.95" r="3.6" fill="#450c60"/>
<circle cx="173.66" cy="574.54" r="3.6" fill="#450c60"/>
<circle cx="166.12" cy="537.14" r="3.6" fill="#450c60"/>
<circle cx="185.65" cy="559.5" r="3.6" fill="#450c60"/>
<circle cx="146.23" cy="524.8" r="3.6" fill="#450c60"/>
<circle cx="182.02" cy="553.09" r="3.6" fill="#450c60"/>
<circle cx="184.84" cy="557.59" r="3.6" fill="#450c60"/>
<circle cx="162.35" cy="547.76" r="3.6" fill="#450c60"/>
<circle cx="146.3" cy="539.46" r="3.6" fill="#450c60"/>
<circle cx="152.86" cy="534.65" r="3.6" fill="#450c60"/>
<circle cx="130.04" cy="536.24" r="3.6" fill="#450c60"/>
<circle cx="181.12" cy="566.62" r="3.6" fill="#450c60"/>
<circle cx="154.15" cy="539.51" r="3.6" fill="#450c60"/>
<circle cx="172.36" cy="563.7" r="3.6" fill="#450c60"/>
<circle cx="188.35" cy="573.04" r="3.6" fill="#450c60"/>
<circle cx="158.02" cy="532.72" r="3.6" fill="#450c60"/>
<circle cx="178.04" cy="548.51" r="3.6" fill="#450c60"/>
<circle cx="133.02" cy="536.39" r="3.6" fill="#450c60"/>
<circle cx="165.62" cy="540.81" r="3.6" fill="#450c61"/>
<circle cx="183.03" cy="573.26" r="3.6" fill="#450d61"/>
<circle cx="184.97" cy="567.9" r="3.6" fill="#450d61"/>
<circle cx="176.45" cy="566.27" r="3.6" fill="#450d61"/>
<circle cx="175.27" cy="572.91" r="3.6" fill="#450d61"/>
<circle cx="148.75" cy="536.14" r="3.6" fill="#450d61"/>
<circle cx="172.43" cy="582.17" r="3.6" fill="#450d61"/>
<circle cx="133.81" cy="531.91" r="3.6" fill="#450d61"/>
<circle cx="135.39" cy="534.36" r="3.6" fill="#450d61"/>
<circle cx="142.94" cy="534.88" r="3.6" fill="#450d61"/>
<circle cx="128.74" cy="532.53" r="3.6" fill="#450d61"/>
<circle cx="182.43" cy="563.45" r="3.6" fill="#450d61"/>
<circle cx="167.08" cy="543.99" r="3.6" fill="#450d61"/>
<circle cx="131.84" cy="532.22" r="3.6" fill="#450d61"/>
<circle cx="180.15" cy="547.98" r="3.6" fill="#450d61"/>
<circle cx="161.01" cy="550.49" r="3.6" fill="#450d62"/>
<circle cx="161.77" cy="537.27" r="3.6" fill="#450d62"/>
<circle cx="176.8" cy="554.24" r="3.6" fill="#450e62"/>
<circle cx="171.7" cy="556.57" r="3.6" fill="#450e62"/>
<circle cx="165.17" cy="539.45" r="3.6" fill="#450e62"/>
<circle cx="160.62" cy="533.86" r="3.6" fill="#450e62"/>
<circle cx="144.68" cy="529.58" r="3.6" fill="#450e62"/>
<circle cx="114.63" cy="543.04" r="3.6" fill="#450e62"/>
<circle cx="148.99" cy="544.01" r="3.6" fill="#450e62"/>
<circle cx="167.22" cy="564.32" r="3.6" fill="#450e63"/>
<circle cx="169.44" cy="547.43" r="3.6" fill="#450e63"/>
<circle cx="171.08" cy="584.48" r="3.6" fill="#450e63"/>
<circle cx="125.36" cy="538.48" r="3.6" fill="#450e63"/>
<circle cx="171.34" cy="574.6" r="3.6" fill="#450e63"/>
<circle cx="163.18" cy="555.12" r="3.6" fill="#450e63"/>
<circle cx="169.78" cy="577.06" r="3.6" fill="#450e63"/>
<circle cx="134.58" cy="530.22" r="3.6" fill="#450f63"/>
<circle cx="133" cy="539.02" r="3.6" fill="#450f63"/>
<circle cx="172.9" cy="584.67" r="3.6" fill="#450f63"/>
<circle cx="178.91" cy="575.11" r="3.6" fill="#450f63"/>
<circle cx="168.39" cy="572.86" r="3.6" fill="#450f63"/>
<circle cx="182.58" cy="577.87" r="3.6" fill="#450f63"/>
<circle cx="126.84" cy="536.92" r="3.6" fill="#450f63"/>
<circle cx="178.07" cy="566.22" r="3.6" fill="#450f64"/>
<circle cx="174.65" cy="552.31" r="3.6" fill="#460f64"/>
<circle cx="161.07" cy="552.44" r="3.6" fill="#460f64"/>
<circle cx="172.96" cy="560.99" r="3.6" fill="#460f64"/>
<circle cx="162.26" cy="556.43" r="3.6" fill="#460f64"/>
<circle cx="151.25" cy="536.87" r="3.6" fill="#460f64"/>
<circle cx="178.15" cy="572.74" r="3.6" fill="#460f64"/>
<circle cx="176.73" cy="570.76" r="3.6" fill="#461064"/>
<circle cx="158.32" cy="534.43" r="3.6" fill="#461064"/>
<circle cx="118" cy="542.98" r="3.6" fill="#461064"/>
<circle cx="176.05" cy="579.32" r="3.6" fill="#461064"/>
<circle cx="125.16" cy="534.09" r="3.6" fill="#461064"/>
<circle cx="165.92" cy="554.55" r="3.6" fill="#461064"/>
<circle cx="157.19" cy="539.43" r="3.6" fill="#461064"/>
<circle cx="169.28" cy="564.34" r="3.6" fill="#461065"/>
<circle cx="172.1" cy="549.84" r="3.6" fill="#461065"/>
<circle cx="162.93" cy="566.45" r="3.6" fill="#461065"/>
<circle cx="181.79" cy="570.21" r="3.6" fill="#461065"/>
<circle cx="169.13" cy="550.74" r="3.6" fill="#461065"/>
<circle cx="145.9" cy="534.43" r="3.6" fill="#461065"/>
<circle cx="143.63" cy="543.32" r="3.6" fill="#461065"/>
<circle cx="152.92" cy="549.92" r="3.6" fill="#461165"/>
<circle cx="172.86" cy="580.2" r="3.6" fill="#461165"/>
<circle cx="160.76" cy="554.93" r="3.6" fill="#461165"/>
<circle cx="172.34" cy="577.51" r="3.6" fill="#461165"/>
<circle cx="166.52" cy="568.67" r="3.6" fill="#461166"/>
<circle cx="121.9" cy="541.58" r="3.6" fill="#461166"/>
<circle cx="147.93" cy="541.32" r="3.6" fill="#461166"/>
<circle cx="170.85" cy="562.13" r="3.6" fill="#461166"/>
<circle cx="144.78" cy="541.53" r="3.6" fill="#461166"/>
<circle cx="177.01" cy="581.69" r="3.6" fill="#461166"/>
<circle cx="162.79" cy="559.77" r="3.6" fill="#461166"/>
<circle cx="159.07" cy="543.93" r="3.6" fill="#461166"/>
<circle cx="168.3" cy="561.13" r="3.6" fill="#461166"/>
<circle cx="157.95" cy="541.05" r="3.6" fill="#461266"/>
<circle cx="165.72" cy="579.99" r="3.6" fill="#461266"/>
<circle cx="159.15" cy="547.6" r="3.6" fill="#461266"/>
<circle cx="173.23" cy="566.59" r="3.6" fill="#461266"/>
<circle cx="170.92" cy="579.29" r="3.6" fill="#461267"/>
<circle cx="162.48" cy="545.64" r="3.6" fill="#461267"/>
<circle cx="144.83" cy="545.16" r="3.6" fill="#461267"/>
<circle cx="136.49" cy="541.51" r="3.6" fill="#461267"/>
<circle cx="165.08" cy="584.66" r="3.6" fill="#461267"/>
<circle cx="176.51" cy="567.96" r="3.6" fill="#461267"/>
<circle cx="165.28" cy="565.9" r="3.6" fill="#461267"/>
<circle cx="116.09" cy="541.01" r="3.6" fill="#461267"/>
<circle cx="153.03" cy="536.64" r="3.6" fill="#461267"/>
<circle cx="157.19" cy="546.12" r="3.6" fill="#461267"/>
<circle cx="148.58" cy="548.14" r="3.6" fill="#461267"/>
<circle cx="162.77" cy="561.13" r="3.6" fill="#461267"/>
<circle cx="144.23" cy="538.96" r="3.6" fill="#461267"/>
<circle cx="164.33" cy="575.29" r="3.6" fill="#461267"/>
<circle cx="168.77" cy="568.86" r="3.6" fill="#461367"/>
<circle cx="163.31" cy="572.26" r="3.6" fill="#461368"/>
<circle cx="140.18" cy="536.27" r="3.6" fill="#461368"/>
<circle cx="174.57" cy="563.51" r="3.6" fill="#461368"/>
<circle cx="167" cy="548.38" r="3.6" fill="#461368"/>
<circle cx="175.08" cy="557.37" r="3.6" fill="#461368"/>
<circle cx="162.27" cy="543.22" r="3.6" fill="#461368"/>
<circle cx="171.8" cy="552.56" r="3.6" fill="#461368"/>
<circle cx="137.15" cy="534.77" r="3.6" fill="#461368"/>
<circle cx="127.56" cy="542.87" r="3.6" fill="#461368"/>
<circle cx="177.9" cy="577.92" r="3.6" fill="#461368"/>
<circle cx="167.1" cy="577.67" r="3.6" fill="#461368"/>
<circle cx="124.35" cy="536.33" r="3.6" fill="#461368"/>
<circle cx="155.9" cy="549.66" r="3.6" fill="#461368"/>
<circle cx="164.4" cy="548.04" r="3.6" fill="#461368"/>
<circle cx="173.57" cy="572.35" r="3.6" fill="#461368"/>
<circle cx="149.41" cy="545.48" r="3.6" fill="#461469"/>
<circle cx="172.2" cy="570.75" r="3.6" fill="#461469"/>
<circle cx="169.25" cy="586.34" r="3.6" fill="#461469"/>
<circle cx="166.21" cy="570.24" r="3.6" fill="#461469"/>
<circle cx="176.61" cy="574.69" r="3.6" fill="#461469"/>
<circle cx="142.84" cy="541.28" r="3.6" fill="#461469"/>
<circle cx="169.11" cy="582.23" r="3.6" fill="#461469"/>
<circle cx="158.96" cy="556.6" r="3.6" fill="#461469"/>
<circle cx="167.38" cy="546.12" r="3.6" fill="#461469"/>
<circle cx="168.75" cy="571.03" r="3.6" fill="#461469"/>
<circle cx="142.47" cy="546" r="3.6" fill="#461469"/>
<circle cx="164.39" cy="557.54" r="3.6" fill="#461469"/>
<circle cx="131.01" cy="543.24" r="3.6" fill="#461469"/>
<circle cx="157.2" cy="543.88" r="3.6" fill="#461469"/>
<circle cx="164.25" cy="568.5" r="3.6" fill="#461469"/>
<circle cx="157.15" cy="548.27" r="3.6" fill="#461469"/>
<circle cx="135.07" cy="536.25" r="3.6" fill="#461469"/>
<circle cx="153.76" cy="548.32" r="3.6" fill="#461469"/>
<circle cx="167.45" cy="579.56" r="3.6" fill="#461469"/>
<circle cx="130.94" cy="539.36" r="3.6" fill="#461469"/>
<circle cx="146.06" cy="536.21" r="3.6" fill="#461469"/>
<circle cx="173.09" cy="559.26" r="3.6" fill="#461569"/>
<circle cx="162.67" cy="583.7" r="3.6" fill="#461569"/>
<circle cx="169.05" cy="554.29" r="3.6" fill="#461569"/>
<circle cx="171.22" cy="566.09" r="3.6" fill="#461569"/>
<circle cx="153.02" cy="552.18" r="3.6" fill="#461569"/>
<circle cx="112.39" cy="547.58" r="3.6" fill="#461569"/>
<circle cx="139.02" cy="539.46" r="3.6" fill="#461569"/>
<circle cx="168.11" cy="559.24" r="3.6" fill="#46156a"/>
<circle cx="155.03" cy="541.06" r="3.6" fill="#46156a"/>
<circle cx="135.49" cy="543.17" r="3.6" fill="#46156a"/>
<circle cx="164.56" cy="576.81" r="3.6" fill="#46156a"/>
<circle cx="149.36" cy="538.74" r="3.6" fill="#46156a"/>
<circle cx="165.93" cy="551.98" r="3.6" fill="#46156a"/>
<circle cx="160.26" cy="545.98" r="3.6" fill="#46156a"/>
<circle cx="163.76" cy="550.71" r="3.6" fill="#46156a"/>
<circle cx="164.21" cy="586.5" r="3.6" fill="#46166a"/>
<circle cx="166.57" cy="557.16" r="3.6" fill="#46166a"/>
<circle cx="167.9" cy="584.33" r="3.6" fill="#46166a"/>
<circle cx="167.7" cy="566.14" r="3.6" fill="#46166a"/>
<circle cx="160.05" cy="559.32" r="3.6" fill="#46166a"/>
<circle cx="128.11" cy="538.49" r="3.6" fill="#46166a"/>
<circle cx="141.09" cy="538.83" r="3.6" fill="#46166a"/>
<circle cx="152.63" cy="541.46" r="3.6" fill="#46166a"/>
<circle cx="149.94" cy="541.13" r="3.6" fill="#46166a"/>
<circle cx="118.27" cy="539.19" r="3.6" fill="#46166a"/>
<circle cx="157.94" cy="552.95" r="3.6" fill="#46166a"/>
<circle cx="153.79" cy="542.91" r="3.6" fill="#46166a"/>
<circle cx="170.75" cy="572.97" r="3.6" fill="#46166a"/>
<circle cx="146.62" cy="545.31" r="3.6" fill="#46166a"/>
<circle cx="151.41" cy="543.6" r="3.6" fill="#46166a"/>
<circle cx="171.78" cy="568.15" r="3.6" fill="#46166a"/>
<circle cx="161.35" cy="577.57" r="3.6" fill="#46166a"/>
<circle cx="163.81" cy="552.26" r="3.6" fill="#46166a"/>
<circle cx="114.64" cy="547.39" r="3.6" fill="#46176b"/>
<circle cx="119.88" cy="538.48" r="3.6" fill="#46176b"/>
<circle cx="169.09" cy="575.36" r="3.6" fill="#46176b"/>
<circle cx="165.71" cy="558.72" r="3.6" fill="#46176b"/>
<circle cx="151.97" cy="548.49" r="3.6" fill="#46176b"/>
<circle cx="156.33" cy="556.89" r="3.6" fill="#46176b"/>
<circle cx="160.83" cy="574.83" r="3.6" fill="#46176b"/>
<circle cx="164.48" cy="564.18" r="3.6" fill="#46176b"/>
<circle cx="125.62" cy="543.82" r="3.6" fill="#46176b"/>
<circle cx="162.3" cy="564.19" r="3.6" fill="#46176b"/>
<circle cx="123.02" cy="538.93" r="3.6" fill="#46176b"/>
<circle cx="165.79" cy="561.34" r="3.6" fill="#46176b"/>
<circle cx="126.59" cy="545.91" r="3.6" fill="#46176b"/>
<circle cx="123.51" cy="545.15" r="3.6" fill="#46176b"/>
<circle cx="158.86" cy="567.87" r="3.6" fill="#46176b"/>
<circle cx="126.97" cy="541.5" r="3.6" fill="#46176b"/>
<circle cx="124.1" cy="541.48" r="3.6" fill="#46176b"/>
<circle cx="109.74" cy="547.94" r="3.6" fill="#46186b"/>
<circle cx="119.09" cy="541.33" r="3.6" fill="#46186b"/>
<circle cx="139.79" cy="541.19" r="3.6" fill="#46186b"/>
<circle cx="122.91" cy="543.84" r="3.6" fill="#46186b"/>
<circle cx="138.74" cy="547.68" r="3.6" fill="#46186b"/>
<circle cx="119.81" cy="543.06" r="3.6" fill="#46186c"/>
<circle cx="136.32" cy="538.53" r="3.6" fill="#46186c"/>
<circle cx="160.86" cy="568.51" r="3.6" fill="#46186c"/>
<circle cx="166.55" cy="581.5" r="3.6" fill="#46186c"/>
<circle cx="115.86" cy="546.21" r="3.6" fill="#46186c"/>
<circle cx="165.86" cy="586.59" r="3.6" fill="#46186c"/>
<circle cx="158.76" cy="549.9" r="3.6" fill="#46196c"/>
<circle cx="132.13" cy="541.69" r="3.6" fill="#46196c"/>
<circle cx="133.88" cy="546.13" r="3.6" fill="#46196c"/>
<circle cx="145.75" cy="543.92" r="3.6" fill="#46196c"/>
<circle cx="134.04" cy="541.64" r="3.6" fill="#46196c"/>
<circle cx="152.23" cy="545.16" r="3.6" fill="#46196d"/>
<circle cx="143.19" cy="548.31" r="3.6" fill="#46196d"/>
<circle cx="154.75" cy="545.88" r="3.6" fill="#46196d"/>
<circle cx="155" cy="555.1" r="3.6" fill="#461a6d"/>
<circle cx="162.07" cy="571.1" r="3.6" fill="#461a6d"/>
<circle cx="113.64" cy="545.45" r="3.6" fill="#461a6d"/>
<circle cx="146.76" cy="547.73" r="3.6" fill="#461a6d"/>
<circle cx="118.91" cy="546.18" r="3.6" fill="#461a6d"/>
<circle cx="129.25" cy="541.53" r="3.6" fill="#461a6d"/>
<circle cx="155.75" cy="552.06" r="3.6" fill="#461a6d"/>
<circle cx="141.19" cy="543.27" r="3.6" fill="#461a6d"/>
<circle cx="157.81" cy="565.47" r="3.6" fill="#461a6d"/>
<circle cx="118.35" cy="548.28" r="3.6" fill="#461a6d"/>
<circle cx="164.4" cy="570.86" r="3.6" fill="#461a6d"/>
<circle cx="159.5" cy="570.9" r="3.6" fill="#461a6d"/>
<circle cx="159.99" cy="566.61" r="3.6" fill="#461a6d"/>
<circle cx="157.86" cy="555.34" r="3.6" fill="#461a6d"/>
<circle cx="157.08" cy="559.6" r="3.6" fill="#461a6d"/>
<circle cx="162.75" cy="579.26" r="3.6" fill="#461b6d"/>
<circle cx="140.85" cy="547.54" r="3.6" fill="#461b6d"/>
<circle cx="165.83" cy="572.93" r="3.6" fill="#461b6e"/>
<circle cx="166.49" cy="575.31" r="3.6" fill="#461b6e"/>
<circle cx="159.27" cy="582.05" r="3.6" fill="#461b6e"/>
<circle cx="158.96" cy="586.91" r="3.6" fill="#461c6e"/>
<circle cx="160.19" cy="561.33" r="3.6" fill="#461c6e"/>
<circle cx="133.55" cy="543.28" r="3.6" fill="#461c6e"/>
<circle cx="159.34" cy="589.19" r="3.6" fill="#461c6e"/>
<circle cx="159.32" cy="577" r="3.6" fill="#461c6e"/>
<circle cx="121.61" cy="545.27" r="3.6" fill="#461c6e"/>
<circle cx="162.12" cy="581.55" r="3.6" fill="#461c6e"/>
<circle cx="138.01" cy="543.94" r="3.6" fill="#461c6e"/>
<circle cx="160.06" cy="583.99" r="3.6" fill="#461d6f"/>
<circle cx="128.8" cy="545.61" r="3.6" fill="#461d6f"/>
<circle cx="136.6" cy="545.87" r="3.6" fill="#461d6f"/>
<circle cx="158.91" cy="563.95" r="3.6" fill="#461d6f"/>
<circle cx="138.99" cy="545.25" r="3.6" fill="#461d6f"/>
<circle cx="150.71" cy="552.34" r="3.6" fill="#461d6f"/>
<circle cx="147.6" cy="554.34" r="3.6" fill="#461d6f"/>
<circle cx="164.01" cy="582.1" r="3.6" fill="#461d6f"/>
<circle cx="152.65" cy="559.13" r="3.6" fill="#461d6f"/>
<circle cx="149.98" cy="555.05" r="3.6" fill="#461e6f"/>
<circle cx="160.55" cy="573.33" r="3.6" fill="#461e6f"/>
<circle cx="148.33" cy="550.57" r="3.6" fill="#461e70"/>
<circle cx="153.47" cy="554.36" r="3.6" fill="#461e70"/>
<circle cx="158.01" cy="575.35" r="3.6" fill="#461e70"/>
<circle cx="109.31" cy="549.77" r="3.6" fill="#461f70"/>
<circle cx="154.34" cy="561.95" r="3.6" fill="#461f70"/>
<circle cx="153.74" cy="563.51" r="3.6" fill="#461f70"/>
<circle cx="150.41" cy="550.57" r="3.6" fill="#461f70"/>
<circle cx="153.17" cy="565.7" r="3.6" fill="#461f70"/>
<circle cx="157.24" cy="561.23" r="3.6" fill="#461f70"/>
<circle cx="142.99" cy="552.39" r="3.6" fill="#461f70"/>
<circle cx="119.86" cy="548.24" r="3.6" fill="#461f70"/>
<circle cx="145" cy="552.31" r="3.6" fill="#461f70"/>
<circle cx="145.26" cy="550.79" r="3.6" fill="#462070"/>
<circle cx="131.77" cy="545.96" r="3.6" fill="#462071"/>
<circle cx="162.15" cy="588.42" r="3.6" fill="#462071"/>
<circle cx="151.76" cy="561.78" r="3.6" fill="#462071"/>
<circle cx="161.63" cy="586.44" r="3.6" fill="#462071"/>
<circle cx="155.2" cy="559.08" r="3.6" fill="#462071"/>
<circle cx="140.72" cy="549.76" r="3.6" fill="#462071"/>
<circle cx="124.87" cy="550.35" r="3.6" fill="#462071"/>
<circle cx="149.92" cy="561.14" r="3.6" fill="#462171"/>
<circle cx="111.44" cy="552.58" r="3.6" fill="#462171"/>
<circle cx="143.45" cy="550.11" r="3.6" fill="#462171"/>
<circle cx="153.37" cy="570.32" r="3.6" fill="#462172"/>
<circle cx="140.49" cy="552.32" r="3.6" fill="#462172"/>
<circle cx="160.19" cy="579.9" r="3.6" fill="#462172"/>
<circle cx="136.11" cy="548.5" r="3.6" fill="#462272"/>
<circle cx="133.86" cy="548.15" r="3.6" fill="#462272"/>
<circle cx="151.14" cy="556.81" r="3.6" fill="#462272"/>
<circle cx="153.67" cy="575.43" r="3.6" fill="#462272"/>
<circle cx="153.77" cy="557.59" r="3.6" fill="#462272"/>
<circle cx="147.92" cy="553.09" r="3.6" fill="#462372"/>
<circle cx="156.75" cy="588.56" r="3.6" fill="#462373"/>
<circle cx="125.09" cy="547.96" r="3.6" fill="#462373"/>
<circle cx="149.11" cy="557.29" r="3.6" fill="#462373"/>
<circle cx="155.31" cy="586.43" r="3.6" fill="#462473"/>
<circle cx="113.96" cy="550.28" r="3.6" fill="#462473"/>
<circle cx="130.81" cy="547.39" r="3.6" fill="#462473"/>
<circle cx="156.39" cy="590.69" r="3.6" fill="#462473"/>
<circle cx="156.98" cy="564.39" r="3.6" fill="#462473"/>
<circle cx="156.78" cy="579.62" r="3.6" fill="#462473"/>
<circle cx="144.78" cy="555.29" r="3.6" fill="#462473"/>
<circle cx="157.62" cy="572.39" r="3.6" fill="#462474"/>
<circle cx="134.89" cy="552.82" r="3.6" fill="#462474"/>
<circle cx="155.58" cy="565.67" r="3.6" fill="#462574"/>
<circle cx="123.53" cy="548.05" r="3.6" fill="#462574"/>
<circle cx="157.33" cy="584.01" r="3.6" fill="#462574"/>
<circle cx="156.41" cy="570.84" r="3.6" fill="#462574"/>
<circle cx="119.71" cy="549.91" r="3.6" fill="#462574"/>
<circle cx="138.02" cy="552.51" r="3.6" fill="#462674"/>
<circle cx="126.95" cy="550.13" r="3.6" fill="#462675"/>
<circle cx="128.08" cy="547.61" r="3.6" fill="#462675"/>
<circle cx="106.73" cy="552.23" r="3.6" fill="#462675"/>
<circle cx="112.28" cy="549.94" r="3.6" fill="#462675"/>
<circle cx="137.39" cy="550.83" r="3.6" fill="#462675"/>
<circle cx="136.87" cy="554.2" r="3.6" fill="#462775"/>
<circle cx="152.01" cy="564.06" r="3.6" fill="#462775"/>
<circle cx="129.54" cy="550.17" r="3.6" fill="#462775"/>
<circle cx="114.36" cy="553.05" r="3.6" fill="#462775"/>
<circle cx="150.38" cy="567.82" r="3.6" fill="#462776"/>
<circle cx="156.11" cy="568.23" r="3.6" fill="#462876"/>
<circle cx="147.29" cy="559.8" r="3.6" fill="#462876"/>
<circle cx="153.8" cy="586.08" r="3.6" fill="#462876"/>
<circle cx="122.57" cy="552.83" r="3.6" fill="#462876"/>
<circle cx="146.8" cy="562.04" r="3.6" fill="#462876"/>
<circle cx="154.33" cy="577.22" r="3.6" fill="#462876"/>
<circle cx="155.43" cy="584.55" r="3.6" fill="#462876"/>
<circle cx="155.37" cy="572.46" r="3.6" fill="#462976"/>
<circle cx="154.65" cy="588.41" r="3.6" fill="#462976"/>
<circle cx="154.98" cy="580.01" r="3.6" fill="#462976"/>
<circle cx="133.09" cy="550.3" r="3.6" fill="#462976"/>
<circle cx="117.52" cy="551.94" r="3.6" fill="#462977"/>
<circle cx="148.75" cy="563.93" r="3.6" fill="#462a77"/>
<circle cx="150.53" cy="566.08" r="3.6" fill="#462a77"/>
<circle cx="116.75" cy="550.23" r="3.6" fill="#462a77"/>
<circle cx="152.95" cy="583.96" r="3.6" fill="#462a77"/>
<circle cx="127.16" cy="552.24" r="3.6" fill="#462b77"/>
<circle cx="156.19" cy="582.08" r="3.6" fill="#462b77"/>
<circle cx="151" cy="575.35" r="3.6" fill="#452b77"/>
<circle cx="153.77" cy="591.29" r="3.6" fill="#452b77"/>
<circle cx="155.67" cy="574.83" r="3.6" fill="#452c78"/>
<circle cx="149.33" cy="573.43" r="3.6" fill="#452c78"/>
<circle cx="149.43" cy="559.85" r="3.6" fill="#452c78"/>
<circle cx="108.86" cy="552.5" r="3.6" fill="#452c78"/>
<circle cx="156.28" cy="577.97" r="3.6" fill="#452d78"/>
<circle cx="122.34" cy="549.78" r="3.6" fill="#452d78"/>
<circle cx="135.51" cy="550.55" r="3.6" fill="#452d78"/>
<circle cx="149.56" cy="591.06" r="3.6" fill="#452d78"/>
<circle cx="141.09" cy="557.21" r="3.6" fill="#452e78"/>
<circle cx="149.94" cy="584.65" r="3.6" fill="#452e78"/>
<circle cx="142.57" cy="554.83" r="3.6" fill="#452e78"/>
<circle cx="106.35" cy="554.89" r="3.6" fill="#452e78"/>
<circle cx="153.35" cy="568.64" r="3.6" fill="#452f79"/>
<circle cx="130.28" cy="552.95" r="3.6" fill="#453079"/>
<circle cx="151.32" cy="577.03" r="3.6" fill="#453079"/>
<circle cx="151.58" cy="591.48" r="3.6" fill="#453079"/>
<circle cx="114.28" cy="555.1" r="3.6" fill="#453079"/>
<circle cx="139.53" cy="554.24" r="3.6" fill="#453079"/>
<circle cx="154.11" cy="581.57" r="3.6" fill="#453179"/>
<circle cx="146.29" cy="557.6" r="3.6" fill="#45317a"/>
<circle cx="152.32" cy="579.61" r="3.6" fill="#44317a"/>
<circle cx="139.15" cy="559.18" r="3.6" fill="#44317a"/>
<circle cx="152.66" cy="572.48" r="3.6" fill="#44317a"/>
<circle cx="121.5" cy="554.79" r="3.6" fill="#44317a"/>
<circle cx="111.07" cy="555.02" r="3.6" fill="#44327a"/>
<circle cx="148.62" cy="568.05" r="3.6" fill="#44327a"/>
<circle cx="116.34" cy="555.09" r="3.6" fill="#44327a"/>
<circle cx="138.1" cy="556.44" r="3.6" fill="#44337a"/>
<circle cx="129.75" cy="555.09" r="3.6" fill="#44337b"/>
<circle cx="151.13" cy="586.27" r="3.6" fill="#44357b"/>
<circle cx="143.52" cy="557.08" r="3.6" fill="#44357b"/>
<circle cx="106.63" cy="556.94" r="3.6" fill="#44357b"/>
<circle cx="108.56" cy="555.05" r="3.6" fill="#44357b"/>
<circle cx="133.05" cy="552.72" r="3.6" fill="#44357b"/>
<circle cx="144.42" cy="559.15" r="3.6" fill="#44357b"/>
<circle cx="104.01" cy="557.01" r="3.6" fill="#44357b"/>
<circle cx="144.39" cy="561.74" r="3.6" fill="#44357b"/>
<circle cx="151.57" cy="588.82" r="3.6" fill="#44367b"/>
<circle cx="124.89" cy="552.66" r="3.6" fill="#44367b"/>
<circle cx="150.77" cy="570.84" r="3.6" fill="#44367b"/>
<circle cx="102.84" cy="559.31" r="3.6" fill="#44367c"/>
<circle cx="148.55" cy="581.95" r="3.6" fill="#44367c"/>
<circle cx="151.51" cy="581.35" r="3.6" fill="#44367c"/>
<circle cx="145.97" cy="563.91" r="3.6" fill="#44377c"/>
<circle cx="119.6" cy="552.83" r="3.6" fill="#43377c"/>
<circle cx="134.44" cy="555.07" r="3.6" fill="#43377c"/>
<circle cx="145.57" cy="570.88" r="3.6" fill="#43377c"/>
<circle cx="147.26" cy="566.07" r="3.6" fill="#43387c"/>
<circle cx="111.84" cy="557.31" r="3.6" fill="#43387c"/>
<circle cx="149.07" cy="588.49" r="3.6" fill="#43397d"/>
<circle cx="119.74" cy="554.71" r="3.6" fill="#43397d"/>
<circle cx="146.78" cy="591.04" r="3.6" fill="#433a7d"/>
<circle cx="130.18" cy="556.51" r="3.6" fill="#433b7e"/>
<circle cx="147.02" cy="588.86" r="3.6" fill="#433b7e"/>
<circle cx="132" cy="555.35" r="3.6" fill="#433c7e"/>
<circle cx="142.17" cy="559.66" r="3.6" fill="#433d7e"/>
<circle cx="149.06" cy="579.94" r="3.6" fill="#433d7e"/>
<circle cx="114.86" cy="556.56" r="3.6" fill="#423d7e"/>
<circle cx="148.55" cy="570.52" r="3.6" fill="#423d7e"/>
<circle cx="144.91" cy="566.55" r="3.6" fill="#423d7f"/>
<circle cx="148.15" cy="586.74" r="3.6" fill="#423e7f"/>
<circle cx="135.55" cy="557.09" r="3.6" fill="#423e7f"/>
<circle cx="105.28" cy="559.13" r="3.6" fill="#423f7f"/>
<circle cx="124.89" cy="554.32" r="3.6" fill="#423f7f"/>
<circle cx="143.62" cy="564.28" r="3.6" fill="#423f7f"/>
<circle cx="127.59" cy="556.64" r="3.6" fill="#423f7f"/>
<circle cx="109.28" cy="557.25" r="3.6" fill="#424080"/>
<circle cx="117.29" cy="557.02" r="3.6" fill="#424080"/>
<circle cx="120.57" cy="556.85" r="3.6" fill="#424180"/>
<circle cx="145.57" cy="568.16" r="3.6" fill="#424180"/>
<circle cx="125.72" cy="557.3" r="3.6" fill="#424180"/>
<circle cx="126.38" cy="554.73" r="3.6" fill="#424280"/>
<circle cx="138.81" cy="561.06" r="3.6" fill="#424281"/>
<circle cx="147.79" cy="575.05" r="3.6" fill="#414381"/>
<circle cx="148.43" cy="577.33" r="3.6" fill="#414481"/>
<circle cx="100.02" cy="561.91" r="3.6" fill="#414581"/>
<circle cx="108" cy="559.15" r="3.6" fill="#414582"/>
<circle cx="145.73" cy="581.62" r="3.6" fill="#414682"/>
<circle cx="140.13" cy="565.91" r="3.6" fill="#414682"/>
<circle cx="146.29" cy="577.66" r="3.6" fill="#414682"/>
<circle cx="133.65" cy="559.22" r="3.6" fill="#414682"/>
<circle cx="143.72" cy="588.73" r="3.6" fill="#414782"/>
<circle cx="146.62" cy="584.49" r="3.6" fill="#414782"/>
<circle cx="142.23" cy="562.09" r="3.6" fill="#414782"/>
<circle cx="145.84" cy="575.71" r="3.6" fill="#414782"/>
<circle cx="145.05" cy="584.26" r="3.6" fill="#414782"/>
<circle cx="138.38" cy="563.25" r="3.6" fill="#414883"/>
<circle cx="137.19" cy="561.2" r="3.6" fill="#414883"/>
<circle cx="132.52" cy="557.04" r="3.6" fill="#414883"/>
<circle cx="144.32" cy="572.44" r="3.6" fill="#414883"/>
<circle cx="146.63" cy="573.17" r="3.6" fill="#414983"/>
<circle cx="142.17" cy="573.36" r="3.6" fill="#414983"/>
<circle cx="134.5" cy="561.12" r="3.6" fill="#414a83"/>
<circle cx="141.14" cy="563.83" r="3.6" fill="#404b84"/>
<circle cx="143.22" cy="570.34" r="3.6" fill="#404b84"/>
<circle cx="147" cy="579.86" r="3.6" fill="#404b84"/>
<circle cx="123.31" cy="559.45" r="3.6" fill="#404b84"/>
<circle cx="92.96" cy="568.09" r="3.6" fill="#404c84"/>
<circle cx="102.64" cy="561.8" r="3.6" fill="#404c84"/>
<circle cx="97.48" cy="564.26" r="3.6" fill="#404c84"/>
<circle cx="142.96" cy="586.79" r="3.6" fill="#404c84"/>
<circle cx="140" cy="568.66" r="3.6" fill="#404c85"/>
<circle cx="141.14" cy="589.17" r="3.6" fill="#404d85"/>
<circle cx="141.85" cy="566.54" r="3.6" fill="#404d85"/>
<circle cx="136.64" cy="559.54" r="3.6" fill="#404d85"/>
<circle cx="131.25" cy="561.2" r="3.6" fill="#404e85"/>
<circle cx="142.34" cy="568.73" r="3.6" fill="#404e85"/>
<circle cx="144.06" cy="579.49" r="3.6" fill="#404f85"/>
<circle cx="122.32" cy="557.59" r="3.6" fill="#404f86"/>
<circle cx="99.64" cy="563.39" r="3.6" fill="#404f86"/>
<circle cx="142.39" cy="574.83" r="3.6" fill="#404f86"/>
<circle cx="105.86" cy="561.66" r="3.6" fill="#404f86"/>
<circle cx="104.41" cy="563.81" r="3.6" fill="#404f86"/>
<circle cx="95.27" cy="565.58" r="3.6" fill="#405086"/>
<circle cx="101.78" cy="564.27" r="3.6" fill="#405086"/>
<circle cx="118.33" cy="559.08" r="3.6" fill="#405086"/>
<circle cx="110.22" cy="558.93" r="3.6" fill="#405086"/>
<circle cx="138.38" cy="570.54" r="3.6" fill="#405186"/>
<circle cx="142.97" cy="582.07" r="3.6" fill="#405187"/>
<circle cx="136.6" cy="565.8" r="3.6" fill="#405287"/>
<circle cx="143.46" cy="577.89" r="3.6" fill="#405287"/>
<circle cx="131.74" cy="559.13" r="3.6" fill="#405287"/>
<circle cx="128.9" cy="559.64" r="3.6" fill="#3f5387"/>
<circle cx="145.11" cy="586.92" r="3.6" fill="#3f5387"/>
<circle cx="144.18" cy="590.53" r="3.6" fill="#3f5487"/>
<circle cx="113.48" cy="558.76" r="3.6" fill="#3f5487"/>
<circle cx="118.93" cy="561.04" r="3.6" fill="#3f5488"/>
<circle cx="98.17" cy="566.48" r="3.6" fill="#3f5588"/>
<circle cx="140.77" cy="591.47" r="3.6" fill="#3f5588"/>
<circle cx="136.37" cy="563.4" r="3.6" fill="#3f5588"/>
<circle cx="142" cy="579.35" r="3.6" fill="#3f5588"/>
<circle cx="133.69" cy="563.49" r="3.6" fill="#3f5688"/>
<circle cx="112.76" cy="561.47" r="3.6" fill="#3f5689"/>
<circle cx="140.79" cy="576.88" r="3.6" fill="#3f5789"/>
<circle cx="129.1" cy="561.76" r="3.6" fill="#3f5789"/>
<circle cx="126.83" cy="558.93" r="3.6" fill="#3f5889"/>
<circle cx="110.63" cy="562" r="3.6" fill="#3f5889"/>
<circle cx="116.06" cy="561.01" r="3.6" fill="#3f5889"/>
<circle cx="110.03" cy="563.41" r="3.6" fill="#3f5889"/>
<circle cx="138.68" cy="588.69" r="3.6" fill="#3f5989"/>
<circle cx="138.4" cy="591.46" r="3.6" fill="#3f598a"/>
<circle cx="137.28" cy="574.78" r="3.6" fill="#3f598a"/>
<circle cx="140.54" cy="570.23" r="3.6" fill="#3f5a8a"/>
<circle cx="115.61" cy="559.55" r="3.6" fill="#3f5b8a"/>
<circle cx="94.09" cy="570.41" r="3.6" fill="#3e5b8b"/>
<circle cx="126.65" cy="561.55" r="3.6" fill="#3e5c8b"/>
<circle cx="128.8" cy="563.8" r="3.6" fill="#3e5c8b"/>
<circle cx="95.95" cy="568.9" r="3.6" fill="#3e5d8b"/>
<circle cx="89.65" cy="572.81" r="3.6" fill="#3e5d8b"/>
<circle cx="107.51" cy="563.35" r="3.6" fill="#3e5d8b"/>
<circle cx="126.13" cy="563.23" r="3.6" fill="#3e5e8b"/>
<circle cx="138.14" cy="577.82" r="3.6" fill="#3e5e8b"/>
<circle cx="120.89" cy="559.69" r="3.6" fill="#3e5f8c"/>
<circle cx="141.91" cy="584.56" r="3.6" fill="#3e5f8c"/>
<circle cx="124.2" cy="561.62" r="3.6" fill="#3e608c"/>
<circle cx="108.04" cy="562.07" r="3.6" fill="#3e618c"/>
<circle cx="139.61" cy="573.38" r="3.6" fill="#3e618c"/>
<circle cx="135.48" cy="570.82" r="3.6" fill="#3e618c"/>
<circle cx="140.47" cy="582.01" r="3.6" fill="#3e628c"/>
<circle cx="140.83" cy="587.03" r="3.6" fill="#3e628c"/>
<circle cx="140.12" cy="575.61" r="3.6" fill="#3e628c"/>
<circle cx="137.44" cy="568.49" r="3.6" fill="#3e628c"/>
<circle cx="100.39" cy="566.19" r="3.6" fill="#3f638c"/>
<circle cx="99.25" cy="567.96" r="3.6" fill="#3f638c"/>
<circle cx="131.21" cy="563.9" r="3.6" fill="#3f658c"/>
<circle cx="131.33" cy="566.29" r="3.6" fill="#3f658c"/>
<circle cx="137.89" cy="586" r="3.6" fill="#3f658c"/>
<circle cx="123.51" cy="563.81" r="3.6" fill="#3f658c"/>
<circle cx="132.22" cy="568.17" r="3.6" fill="#3f668c"/>
<circle cx="139.26" cy="579.26" r="3.6" fill="#3f668c"/>
<circle cx="136.5" cy="590.94" r="3.6" fill="#3f668c"/>
<circle cx="121.21" cy="561.17" r="3.6" fill="#3f668c"/>
<circle cx="133.83" cy="566.46" r="3.6" fill="#3f668c"/>
<circle cx="117.75" cy="563.46" r="3.6" fill="#3f678c"/>
<circle cx="103.59" cy="566.43" r="3.6" fill="#3f678c"/>
<circle cx="126.82" cy="566" r="3.6" fill="#3f678c"/>
<circle cx="87.89" cy="575.05" r="3.6" fill="#3f678c"/>
<circle cx="135.97" cy="577.07" r="3.6" fill="#3f678c"/>
<circle cx="92.71" cy="573.02" r="3.6" fill="#3f678c"/>
<circle cx="135.59" cy="568.37" r="3.6" fill="#3f688c"/>
<circle cx="138.32" cy="581.47" r="3.6" fill="#3f6a8c"/>
<circle cx="101.06" cy="568.87" r="3.6" fill="#3f6a8c"/>
<circle cx="136.42" cy="584.46" r="3.6" fill="#3f6a8c"/>
<circle cx="120.02" cy="563.5" r="3.6" fill="#3f6b8c"/>
<circle cx="137.32" cy="572.52" r="3.6" fill="#3f6b8c"/>
<circle cx="139.22" cy="583.8" r="3.6" fill="#3f6b8c"/>
<circle cx="96.33" cy="570.68" r="3.6" fill="#406c8c"/>
<circle cx="133.66" cy="572.55" r="3.6" fill="#406d8c"/>
<circle cx="121.53" cy="565.82" r="3.6" fill="#406d8c"/>
<circle cx="115.11" cy="563.45" r="3.6" fill="#406d8c"/>
<circle cx="132.91" cy="570.16" r="3.6" fill="#406e8c"/>
<circle cx="136.45" cy="592.96" r="3.6" fill="#406e8c"/>
<circle cx="135.15" cy="582.1" r="3.6" fill="#406e8c"/>
<circle cx="129.38" cy="566.44" r="3.6" fill="#406f8c"/>
<circle cx="88.8" cy="577.25" r="3.6" fill="#40708c"/>
<circle cx="112.71" cy="563.82" r="3.6" fill="#40708c"/>
<circle cx="135.4" cy="575.68" r="3.6" fill="#40718c"/>
<circle cx="107.8" cy="565.61" r="3.6" fill="#40718c"/>
<circle cx="98.8" cy="570.95" r="3.6" fill="#40718c"/>
<circle cx="95.45" cy="572.79" r="3.6" fill="#40728c"/>
<circle cx="79.12" cy="584.73" r="3.6" fill="#40728c"/>
<circle cx="105.19" cy="566.06" r="3.6" fill="#40728c"/>
<circle cx="131.76" cy="592.99" r="3.6" fill="#40738c"/>
<circle cx="136.06" cy="580.12" r="3.6" fill="#40738c"/>
<circle cx="103.53" cy="568.12" r="3.6" fill="#40738c"/>
<circle cx="135.53" cy="588.48" r="3.6" fill="#41758c"/>
<circle cx="130.1" cy="568.64" r="3.6" fill="#41758c"/>
<circle cx="127.26" cy="568.41" r="3.6" fill="#41768c"/>
<circle cx="133.39" cy="581.59" r="3.6" fill="#41768c"/>
<circle cx="130.92" cy="570.08" r="3.6" fill="#41788c"/>
<circle cx="131.18" cy="590.67" r="3.6" fill="#41788c"/>
<circle cx="115.98" cy="565.73" r="3.6" fill="#41788c"/>
<circle cx="133.73" cy="592.86" r="3.6" fill="#41788c"/>
<circle cx="81.29" cy="582.49" r="3.6" fill="#41798c"/>
<circle cx="83.06" cy="581.45" r="3.6" fill="#41798c"/>
<circle cx="132.87" cy="577.92" r="3.6" fill="#417a8c"/>
<circle cx="86.21" cy="577.02" r="3.6" fill="#417a8c"/>
<circle cx="133.6" cy="590.55" r="3.6" fill="#427a8c"/>
<circle cx="132.2" cy="583.75" r="3.6" fill="#427b8c"/>
<circle cx="134.53" cy="579.28" r="3.6" fill="#427b8c"/>
<circle cx="124.28" cy="568.64" r="3.6" fill="#427b8c"/>
<circle cx="134.64" cy="583.96" r="3.6" fill="#427c8c"/>
<circle cx="135.14" cy="586.43" r="3.6" fill="#427d8c"/>
<circle cx="101.39" cy="571.01" r="3.6" fill="#427e8c"/>
<circle cx="122.43" cy="568.11" r="3.6" fill="#427e8c"/>
<circle cx="111.36" cy="565.98" r="3.6" fill="#437f8c"/>
<circle cx="132.47" cy="575.62" r="3.6" fill="#437f8c"/>
<circle cx="123.49" cy="565.8" r="3.6" fill="#437f8c"/>
<circle cx="133.98" cy="589.05" r="3.6" fill="#43808c"/>
<circle cx="131.97" cy="572.31" r="3.6" fill="#43818c"/>
<circle cx="106.42" cy="567.87" r="3.6" fill="#43818c"/>
<circle cx="91.55" cy="575.31" r="3.6" fill="#43818c"/>
<circle cx="78.17" cy="586.21" r="3.6" fill="#43828c"/>
<circle cx="132.76" cy="586.06" r="3.6" fill="#44848c"/>
<circle cx="97.29" cy="573.13" r="3.6" fill="#44858c"/>
<circle cx="117.38" cy="568.28" r="3.6" fill="#44858c"/>
<circle cx="113.71" cy="566.02" r="3.6" fill="#44858c"/>
<circle cx="128.29" cy="570.39" r="3.6" fill="#44858c"/>
<circle cx="108.81" cy="568.21" r="3.6" fill="#44868c"/>
<circle cx="128.52" cy="573.43" r="3.6" fill="#44868c"/>
<circle cx="94.1" cy="575.44" r="3.6" fill="#45878c"/>
<circle cx="99.87" cy="572.82" r="3.6" fill="#45878c"/>
<circle cx="131.73" cy="580.12" r="3.6" fill="#45878c"/>
<circle cx="76.29" cy="589.23" r="3.6" fill="#45888c"/>
<circle cx="111.56" cy="568.89" r="3.6" fill="#45888c"/>
<circle cx="118.61" cy="566.49" r="3.6" fill="#45898c"/>
<circle cx="104.71" cy="570.64" r="3.6" fill="#45898c"/>
<circle cx="127.41" cy="575.3" r="3.6" fill="#45898c"/>
<circle cx="128.96" cy="579.75" r="3.6" fill="#45898c"/>
<circle cx="87.2" cy="579.74" r="3.6" fill="#45898c"/>
<circle cx="130.02" cy="575.65" r="3.6" fill="#468a8c"/>
<circle cx="126.7" cy="572.31" r="3.6" fill="#468a8c"/>
<circle cx="129.66" cy="593.08" r="3.6" fill="#468a8c"/>
<circle cx="74.84" cy="592.92" r="3.6" fill="#468a8c"/>
<circle cx="78.87" cy="588.33" r="3.6" fill="#468a8c"/>
<circle cx="91.58" cy="577.55" r="3.6" fill="#468a8c"/>
<circle cx="131.29" cy="577.81" r="3.6" fill="#468a8c"/>
<circle cx="81.67" cy="583.92" r="3.6" fill="#468b8c"/>
<circle cx="128.21" cy="577.83" r="3.6" fill="#468b8c"/>
<circle cx="130.52" cy="588.23" r="3.6" fill="#478f8c"/>
<circle cx="129.65" cy="586.23" r="3.6" fill="#478f8c"/>
<circle cx="114.01" cy="567.98" r="3.6" fill="#48928c"/>
<circle cx="88.42" cy="581.71" r="3.6" fill="#48968c"/>
<circle cx="130.69" cy="582.27" r="3.6" fill="#49968c"/>
<circle cx="75.71" cy="590.88" r="3.6" fill="#49978c"/>
<circle cx="119.9" cy="568.5" r="3.6" fill="#49978c"/>
<circle cx="94.3" cy="577.83" r="3.6" fill="#49978c"/>
<circle cx="126.05" cy="591.54" r="3.6" fill="#499a8c"/>
<circle cx="122.21" cy="571.04" r="3.6" fill="#4a9c8c"/>
<circle cx="125.73" cy="570.96" r="3.6" fill="#4a9c8c"/>
<circle cx="112.04" cy="570.07" r="3.6" fill="#4a9e8c"/>
<circle cx="90.24" cy="579.11" r="3.6" fill="#4b9e8c"/>
<circle cx="99.08" cy="574.85" r="3.6" fill="#4ba08c"/>
<circle cx="81.61" cy="588.27" r="3.6" fill="#4ba18c"/>
<circle cx="106.37" cy="570.93" r="3.6" fill="#4ca18c"/>
<circle cx="108.97" cy="570.6" r="3.6" fill="#4ca28c"/>
<circle cx="105.86" cy="572.55" r="3.6" fill="#4ca38b"/>
<circle cx="127.8" cy="586.07" r="3.6" fill="#4da38b"/>
<circle cx="80.93" cy="586.52" r="3.6" fill="#4da38b"/>
<circle cx="85.13" cy="583.73" r="3.6" fill="#4da48b"/>
<circle cx="82.61" cy="586.54" r="3.6" fill="#4da58b"/>
<circle cx="124.45" cy="593.8" r="3.6" fill="#4da58b"/>
<circle cx="128.36" cy="588.58" r="3.6" fill="#4da58b"/>
<circle cx="125.6" cy="581.42" r="3.6" fill="#4ea58b"/>
<circle cx="128.49" cy="590.74" r="3.6" fill="#4ea58b"/>
<circle cx="125.71" cy="579.34" r="3.6" fill="#4ea68b"/>
<circle cx="79.22" cy="591.05" r="3.6" fill="#4ea68b"/>
<circle cx="128.72" cy="584.13" r="3.6" fill="#4ea68a"/>
<circle cx="96.58" cy="575.72" r="3.6" fill="#4fa78a"/>
<circle cx="86.94" cy="583.65" r="3.6" fill="#50a98a"/>
<circle cx="76.47" cy="595.57" r="3.6" fill="#50aa8a"/>
<circle cx="119.95" cy="570.7" r="3.6" fill="#50ab89"/>
<circle cx="126.07" cy="593.32" r="3.6" fill="#50ab89"/>
<circle cx="86.76" cy="582.47" r="3.6" fill="#51ac89"/>
<circle cx="92.05" cy="579.25" r="3.6" fill="#51ac89"/>
<circle cx="91.47" cy="581.69" r="3.6" fill="#51ac89"/>
<circle cx="127.94" cy="581.54" r="3.6" fill="#51ac89"/>
<circle cx="126.22" cy="583.87" r="3.6" fill="#51ad89"/>
<circle cx="114.89" cy="570.87" r="3.6" fill="#51ad89"/>
<circle cx="102.89" cy="573.07" r="3.6" fill="#52ae88"/>
<circle cx="117.44" cy="570.48" r="3.6" fill="#52ae88"/>
<circle cx="124.19" cy="573.02" r="3.6" fill="#52af88"/>
<circle cx="81.41" cy="591.41" r="3.6" fill="#53b088"/>
<circle cx="125.34" cy="574.72" r="3.6" fill="#53b088"/>
<circle cx="103.4" cy="574.8" r="3.6" fill="#53b188"/>
<circle cx="121.08" cy="573.21" r="3.6" fill="#54b188"/>
<circle cx="101.08" cy="575.02" r="3.6" fill="#54b287"/>
<circle cx="77.6" cy="592.88" r="3.6" fill="#54b387"/>
<circle cx="80.19" cy="593.35" r="3.6" fill="#54b387"/>
<circle cx="83.71" cy="588.18" r="3.6" fill="#55b387"/>
<circle cx="123.76" cy="579.66" r="3.6" fill="#55b387"/>
<circle cx="123.42" cy="591.3" r="3.6" fill="#55b487"/>
<circle cx="79.14" cy="595.38" r="3.6" fill="#55b587"/>
<circle cx="122.85" cy="595.25" r="3.6" fill="#55b587"/>
<circle cx="125.21" cy="577.68" r="3.6" fill="#55b587"/>
<circle cx="86.08" cy="586.45" r="3.6" fill="#56b686"/>
<circle cx="125.51" cy="589.23" r="3.6" fill="#56b686"/>
<circle cx="121.76" cy="593.06" r="3.6" fill="#56b686"/>
<circle cx="115.48" cy="572.55" r="3.6" fill="#56b786"/>
<circle cx="95.07" cy="579.59" r="3.6" fill="#57b885"/>
<circle cx="124.54" cy="586.68" r="3.6" fill="#57b985"/>
<circle cx="99.94" cy="577.07" r="3.6" fill="#58b984"/>
<circle cx="113.9" cy="572.98" r="3.6" fill="#58bb84"/>
<circle cx="123" cy="576.87" r="3.6" fill="#59bb83"/>
<circle cx="119.19" cy="572.53" r="3.6" fill="#59bc83"/>
<circle cx="96.4" cy="577.58" r="3.6" fill="#59bc83"/>
<circle cx="123.21" cy="588.91" r="3.6" fill="#5abf82"/>
<circle cx="108.39" cy="573.09" r="3.6" fill="#5cc280"/>
<circle cx="123.34" cy="584.55" r="3.6" fill="#5cc380"/>
<circle cx="110.77" cy="572.43" r="3.6" fill="#5ec67e"/>
<circle cx="121.19" cy="595.17" r="3.6" fill="#5ec67e"/>
<circle cx="122.02" cy="575.17" r="3.6" fill="#5ec77e"/>
<circle cx="120.3" cy="577.91" r="3.6" fill="#61c97b"/>
<circle cx="82.87" cy="593.54" r="3.6" fill="#61c97b"/>
<circle cx="122.31" cy="582.26" r="3.6" fill="#61c97b"/>
<circle cx="120.19" cy="591.44" r="3.6" fill="#64cb78"/>
<circle cx="89.61" cy="584.21" r="3.6" fill="#65cc77"/>
<circle cx="120.92" cy="589.04" r="3.6" fill="#65cc77"/>
<circle cx="88.27" cy="586.33" r="3.6" fill="#66cd76"/>
<circle cx="108.97" cy="575.45" r="3.6" fill="#68ce74"/>
<circle cx="122.68" cy="586.35" r="3.6" fill="#68ce74"/>
<circle cx="81.72" cy="594.9" r="3.6" fill="#69ce73"/>
<circle cx="93.94" cy="581.88" r="3.6" fill="#6bd071"/>
<circle cx="83.73" cy="595.39" r="3.6" fill="#6cd170"/>
<circle cx="116.5" cy="575.51" r="3.6" fill="#6dd16f"/>
<circle cx="119.35" cy="575.27" r="3.6" fill="#6dd16f"/>
<circle cx="85.06" cy="593.26" r="3.6" fill="#6ed26e"/>
<circle cx="117.83" cy="595.49" r="3.6" fill="#6fd26d"/>
<circle cx="96.35" cy="581.37" r="3.6" fill="#6fd26d"/>
<circle cx="107.04" cy="575.63" r="3.6" fill="#70d36c"/>
<circle cx="84.19" cy="590.76" r="3.6" fill="#71d46b"/>
<circle cx="86.54" cy="591.49" r="3.6" fill="#73d569"/>
<circle cx="97.46" cy="580.11" r="3.6" fill="#74d568"/>
<circle cx="120.84" cy="584.72" r="3.6" fill="#75d567"/>
<circle cx="121.39" cy="580.01" r="3.6" fill="#75d667"/>
<circle cx="101.57" cy="577.31" r="3.6" fill="#76d666"/>
<circle cx="86.55" cy="595.79" r="3.6" fill="#77d665"/>
<circle cx="118.81" cy="592.81" r="3.6" fill="#77d665"/>
<circle cx="86.94" cy="589.25" r="3.6" fill="#77d665"/>
<circle cx="114.73" cy="575.16" r="3.6" fill="#78d764"/>
<circle cx="119.9" cy="582.17" r="3.6" fill="#78d764"/>
<circle cx="100.37" cy="580.08" r="3.6" fill="#7bd861"/>
<circle cx="91.34" cy="586.63" r="3.6" fill="#7bd961"/>
<circle cx="117.22" cy="577.22" r="3.6" fill="#7cd960"/>
<circle cx="119.15" cy="586.89" r="3.6" fill="#7fda5d"/>
<circle cx="109.48" cy="577.36" r="3.6" fill="#7fdb5d"/>
<circle cx="118.89" cy="583.73" r="3.6" fill="#80db5c"/>
<circle cx="91.81" cy="588.52" r="3.6" fill="#82dc5a"/>
<circle cx="89.19" cy="588.52" r="3.6" fill="#83dd59"/>
<circle cx="93.01" cy="583.77" r="3.6" fill="#84dd58"/>
<circle cx="89.15" cy="595.87" r="3.6" fill="#84dd58"/>
<circle cx="116.17" cy="593.53" r="3.6" fill="#84dd58"/>
<circle cx="117.48" cy="588.53" r="3.6" fill="#85de57"/>
<circle cx="112.66" cy="594.99" r="3.6" fill="#85de57"/>
<circle cx="115.64" cy="595.39" r="3.6" fill="#86de56"/>
<circle cx="115.07" cy="576.93" r="3.6" fill="#86de56"/>
<circle cx="113.22" cy="593.06" r="3.6" fill="#88df54"/>
<circle cx="109.75" cy="594.98" r="3.6" fill="#88df54"/>
<circle cx="98.74" cy="581.5" r="3.6" fill="#8ae052"/>
<circle cx="112.11" cy="575.59" r="3.6" fill="#8be151"/>
<circle cx="104.28" cy="577.34" r="3.6" fill="#8be151"/>
<circle cx="117.02" cy="582.14" r="3.6" fill="#8ce150"/>
<circle cx="117.65" cy="590.81" r="3.6" fill="#8ce150"/>
<circle cx="117.18" cy="586.79" r="3.6" fill="#8fe24f"/>
<circle cx="87.93" cy="593.15" r="3.6" fill="#92e24d"/>
<circle cx="97.72" cy="583.98" r="3.6" fill="#92e24d"/>
<circle cx="118.28" cy="579.68" r="3.6" fill="#93e24d"/>
<circle cx="115.58" cy="589.23" r="3.6" fill="#95e34c"/>
<circle cx="107.59" cy="576.9" r="3.6" fill="#98e34b"/>
<circle cx="91.94" cy="590.53" r="3.6" fill="#98e34b"/>
<circle cx="94.82" cy="584.49" r="3.6" fill="#99e44b"/>
<circle cx="115.97" cy="584.43" r="3.6" fill="#9de449"/>
<circle cx="94.64" cy="595.35" r="3.6" fill="#9fe548"/>
<circle cx="103.32" cy="579.37" r="3.6" fill="#a0e547"/>
<circle cx="115.78" cy="591.09" r="3.6" fill="#a2e547"/>
<circle cx="89.62" cy="593.71" r="3.6" fill="#a2e547"/>
<circle cx="112.15" cy="577.06" r="3.6" fill="#a2e546"/>
<circle cx="110.1" cy="579.07" r="3.6" fill="#a6e645"/>
<circle cx="91.75" cy="594.99" r="3.6" fill="#a8e744"/>
<circle cx="110.86" cy="593.21" r="3.6" fill="#a9e744"/>
<circle cx="107.9" cy="592.78" r="3.6" fill="#abe743"/>
<circle cx="93.14" cy="586.27" r="3.6" fill="#abe743"/>
<circle cx="105.07" cy="595.99" r="3.6" fill="#ade842"/>
<circle cx="112.92" cy="579.39" r="3.6" fill="#aee841"/>
<circle cx="95.92" cy="586.98" r="3.6" fill="#afe841"/>
<circle cx="102.69" cy="593.44" r="3.6" fill="#afe841"/>
<circle cx="109.45" cy="581.9" r="3.6" fill="#b2e841"/>
<circle cx="113.54" cy="583.92" r="3.6" fill="#b2e840"/>
<circle cx="116.33" cy="580.09" r="3.6" fill="#b3e940"/>
<circle cx="114.11" cy="586.1" r="3.6" fill="#b5e940"/>
<circle cx="97.07" cy="595.8" r="3.6" fill="#b6e940"/>
<circle cx="112.07" cy="586.78" r="3.6" fill="#b6e940"/>
<circle cx="89.7" cy="591.45" r="3.6" fill="#b7e940"/>
<circle cx="99.79" cy="588.1" r="3.6" fill="#b7e940"/>
<circle cx="105.23" cy="590.85" r="3.6" fill="#b8e940"/>
<circle cx="107.67" cy="591.04" r="3.6" fill="#bbea3f"/>
<circle cx="105.9" cy="579.54" r="3.6" fill="#bdea3e"/>
<circle cx="98.92" cy="585.98" r="3.6" fill="#beea3e"/>
<circle cx="112.77" cy="588.89" r="3.6" fill="#beea3e"/>
<circle cx="93.07" cy="593.44" r="3.6" fill="#c0ea3e"/>
<circle cx="101.35" cy="582.06" r="3.6" fill="#c0ea3e"/>
<circle cx="107.39" cy="582.18" r="3.6" fill="#c0ea3e"/>
<circle cx="102.86" cy="595.42" r="3.6" fill="#c2eb3e"/>
<circle cx="108.6" cy="586.46" r="3.6" fill="#c2eb3e"/>
<circle cx="107.79" cy="595.1" r="3.6" fill="#c2eb3e"/>
<circle cx="99.53" cy="595.68" r="3.6" fill="#c3eb3e"/>
<circle cx="104.67" cy="581.62" r="3.6" fill="#c3eb3e"/>
<circle cx="104.73" cy="588.85" r="3.6" fill="#c3eb3d"/>
<circle cx="106.75" cy="586.35" r="3.6" fill="#c4eb3d"/>
<circle cx="97.3" cy="590.36" r="3.6" fill="#c5eb3d"/>
<circle cx="102.29" cy="590.36" r="3.6" fill="#c5eb3d"/>
<circle cx="102.72" cy="588.97" r="3.6" fill="#c6eb3d"/>
<circle cx="105.32" cy="584.46" r="3.6" fill="#c7eb3d"/>
<circle cx="96.68" cy="589.13" r="3.6" fill="#c8ec3d"/>
<circle cx="101.05" cy="593.73" r="3.6" fill="#c8ec3d"/>
<circle cx="103.58" cy="583.71" r="3.6" fill="#cbec3c"/>
<circle cx="99.96" cy="583.86" r="3.6" fill="#cdec3c"/>
<circle cx="113.22" cy="591.5" r="3.6" fill="#ceec3c"/>
<circle cx="114.91" cy="581.37" r="3.6" fill="#ceec3c"/>
<circle cx="101.78" cy="585.87" r="3.6" fill="#cfec3b"/>
<circle cx="94.73" cy="588.56" r="3.6" fill="#d1ed3b"/>
<circle cx="94.08" cy="590.82" r="3.6" fill="#d1ed3b"/>
<circle cx="110.02" cy="588.45" r="3.6" fill="#d2ed3b"/>
<circle cx="95.59" cy="592.9" r="3.6" fill="#d6ee3a"/>
<circle cx="107.43" cy="580.14" r="3.6" fill="#d9ee3a"/>
<circle cx="110.34" cy="590.85" r="3.6" fill="#dcee39"/>
<circle cx="105.77" cy="593.1" r="3.6" fill="#ddef39"/>
<circle cx="110.78" cy="584.72" r="3.6" fill="#deef39"/>
<circle cx="97.86" cy="593.61" r="3.6" fill="#e1ef38"/>
<circle cx="111.87" cy="582.42" r="3.6" fill="#e2ef38"/>
<circle cx="108.01" cy="588.58" r="3.6" fill="#e6f037"/>
<circle cx="100.03" cy="591.3" r="3.6" fill="#e6f037"/>
<circle cx="108.68" cy="584.66" r="3.6" fill="#e8f037"/>
<circle cx="104" cy="586.35" r="3.6" fill="#e8f037"/>
<line x1="89.6" y1="596.6" x2="240" y2="512.4" stroke="#000" stroke-width="3"/>
<defs><linearGradient id="vg" x1="0" y1="1" x2="0" y2="0">
<stop offset="0" stop-color="#440154"/>
<stop offset="0.06" stop-color="#461469"/>
<stop offset="0.13" stop-color="#462876"/>
<stop offset="0.21" stop-color="#414682"/>
<stop offset="0.28" stop-color="#3e5f8c"/>
<stop offset="0.36" stop-color="#41788c"/>
<stop offset="0.44" stop-color="#468c8c"/>
<stop offset="0.48" stop-color="#4ba08c"/>
<stop offset="0.56" stop-color="#55b487"/>
<stop offset="0.63" stop-color="#5fc87d"/>
<stop offset="0.71" stop-color="#6ed26e"/>
<stop offset="0.8" stop-color="#8ce150"/>
<stop offset="0.86" stop-color="#afe841"/>
<stop offset="1" stop-color="#e8f037"/>
</linearGradient></defs>
<rect x="226.5" y="470.9" width="23.6" height="65.8" fill="url(#vg)" stroke="none" stroke-width="0"/>
<line x1="226.5" y1="481.6" x2="231.1" y2="481.6" stroke="#fff" stroke-width="1" stroke-opacity="0.6"/>
<line x1="245.5" y1="481.6" x2="250.1" y2="481.6" stroke="#fff" stroke-width="1" stroke-opacity="0.6"/>
<text x="270.65" y="485.92" font-size="11.4" text-anchor="middle" fill="#1a1a1a">50000</text>
<line x1="226.5" y1="492.6" x2="231.1" y2="492.6" stroke="#fff" stroke-width="1" stroke-opacity="0.6"/>
<line x1="245.5" y1="492.6" x2="250.1" y2="492.6" stroke="#fff" stroke-width="1" stroke-opacity="0.6"/>
<text x="270.65" y="496.92" font-size="11.4" text-anchor="middle" fill="#1a1a1a">40000</text>
<line x1="226.5" y1="503.8" x2="231.1" y2="503.8" stroke="#fff" stroke-width="1" stroke-opacity="0.6"/>
<line x1="245.5" y1="503.8" x2="250.1" y2="503.8" stroke="#fff" stroke-width="1" stroke-opacity="0.6"/>
<text x="270.65" y="508.12" font-size="11.4" text-anchor="middle" fill="#1a1a1a">30000</text>
<line x1="226.5" y1="515" x2="231.1" y2="515" stroke="#fff" stroke-width="1" stroke-opacity="0.6"/>
<line x1="245.5" y1="515" x2="250.1" y2="515" stroke="#fff" stroke-width="1" stroke-opacity="0.6"/>
<text x="270.65" y="519.32" font-size="11.4" text-anchor="middle" fill="#1a1a1a">20000</text>
<line x1="226.5" y1="526.3" x2="231.1" y2="526.3" stroke="#fff" stroke-width="1" stroke-opacity="0.6"/>
<line x1="245.5" y1="526.3" x2="250.1" y2="526.3" stroke="#fff" stroke-width="1" stroke-opacity="0.6"/>
<text x="270.65" y="530.62" font-size="11.4" text-anchor="middle" fill="#1a1a1a">10000</text>
<text x="226.4" y="464.2" font-size="11.8" fill="#1a1a1a">n_neighbors</text>
<rect x="55.4" y="444" width="249.9" height="159.3" fill="none" stroke="#444444" stroke-width="1.5"/>
<text x="94.4" y="485.13" font-size="12" text-anchor="middle" fill="#1a1a1a">R = 0.82</text>
<text x="69.0" y="504.1" font-size="12" fill="#1a1a1a" xml:space="preserve"><tspan font-style="italic">p</tspan> &lt; 0.01</text>
<line x1="50.6" y1="596.6" x2="55.4" y2="596.6" stroke="#333333" stroke-width="1.3"/>
<text x="46.8" y="602.27" font-size="13" text-anchor="end" fill="#1a1a1a">0</text>
<line x1="50.6" y1="566.16" x2="55.4" y2="566.16" stroke="#333333" stroke-width="1.3"/>
<text x="46.8" y="571.83" font-size="13" text-anchor="end" fill="#1a1a1a">25</text>
<line x1="50.6" y1="535.72" x2="55.4" y2="535.72" stroke="#333333" stroke-width="1.3"/>
<text x="46.8" y="541.39" font-size="13" text-anchor="end" fill="#1a1a1a">50</text>
<line x1="50.6" y1="505.28" x2="55.4" y2="505.28" stroke="#333333" stroke-width="1.3"/>
<text x="46.8" y="510.95" font-size="13" text-anchor="end" fill="#1a1a1a">75</text>
<line x1="50.6" y1="474.84" x2="55.4" y2="474.84" stroke="#333333" stroke-width="1.3"/>
<text x="46.8" y="480.51" font-size="13" text-anchor="end" fill="#1a1a1a">100</text>
<line x1="50.6" y1="444.4" x2="55.4" y2="444.4" stroke="#333333" stroke-width="1.3"/>
<text x="46.8" y="450.07" font-size="13" text-anchor="end" fill="#1a1a1a">125</text>
<line x1="66" y1="603.3" x2="66" y2="608.1" stroke="#333333" stroke-width="1.3"/>
<text x="66" y="622.77" font-size="13" text-anchor="middle" fill="#1a1a1a">0.00</text>
<line x1="129.8" y1="603.3" x2="129.8" y2="608.1" stroke="#333333" stroke-width="1.3"/>
<text x="129.8" y="622.77" font-size="13" text-anchor="middle" fill="#1a1a1a">0.25</text>
<line x1="193.6" y1="603.3" x2="193.6" y2="608.1" stroke="#333333" stroke-width="1.3"/>
<text x="193.6" y="622.77" font-size="13" text-anchor="middle" fill="#1a1a1a">0.50</text>
<line x1="257.4" y1="603.3" x2="257.4" y2="608.1" stroke="#333333" stroke-width="1.3"/>
<text x="257.4" y="622.77" font-size="13" text-anchor="middle" fill="#1a1a1a">0.75</text>
<text x="179.7" y="640.19" font-size="14.5" text-anchor="middle" fill="#1a1a1a">NDVI</text>
<text transform="translate(9.2,523.6) rotate(-90)" x="0" y="4.99" font-size="14.5" text-anchor="middle" fill="#1a1a1a">Et</text>
<text x="-0.6" y="441.0" font-size="19" font-weight="bold" fill="#000">e</text>
<rect x="405.5" y="443.9" width="250.1" height="159.3" fill="#fff" stroke="none" stroke-width="0"/>
<line x1="471.6" y1="443.9" x2="471.6" y2="603.2" stroke="#F2F2F2" stroke-width="0.9"/>
<line x1="540.6" y1="443.9" x2="540.6" y2="603.2" stroke="#F2F2F2" stroke-width="0.9"/>
<line x1="609.6" y1="443.9" x2="609.6" y2="603.2" stroke="#F2F2F2" stroke-width="0.9"/>
<line x1="405.5" y1="586.4" x2="655.6" y2="586.4" stroke="#F2F2F2" stroke-width="0.9"/>
<line x1="405.5" y1="542.8" x2="655.6" y2="542.8" stroke="#F2F2F2" stroke-width="0.9"/>
<line x1="405.5" y1="499.2" x2="655.6" y2="499.2" stroke="#F2F2F2" stroke-width="0.9"/>
<line x1="405.5" y1="455.6" x2="655.6" y2="455.6" stroke="#F2F2F2" stroke-width="0.9"/>
<line x1="437.1" y1="443.9" x2="437.1" y2="603.2" stroke="#EBEBEB" stroke-width="1.3"/>
<line x1="506.1" y1="443.9" x2="506.1" y2="603.2" stroke="#EBEBEB" stroke-width="1.3"/>
<line x1="575.1" y1="443.9" x2="575.1" y2="603.2" stroke="#EBEBEB" stroke-width="1.3"/>
<line x1="644.1" y1="443.9" x2="644.1" y2="603.2" stroke="#EBEBEB" stroke-width="1.3"/>
<line x1="405.5" y1="564.6" x2="655.6" y2="564.6" stroke="#EBEBEB" stroke-width="1.3"/>
<line x1="405.5" y1="521" x2="655.6" y2="521" stroke="#EBEBEB" stroke-width="1.3"/>
<line x1="405.5" y1="477.4" x2="655.6" y2="477.4" stroke="#EBEBEB" stroke-width="1.3"/>
<polyline points="416.4,560.8 423.3,549.4 430.2,555.3 437.1,551.6 444,547.7 450.9,556.4 457.8,547.7 464.7,559.6 471.6,553.8 478.5,546.5 485.4,545 492.3,543.6 499.2,549.1 506.1,557.9 513,558.9 519.9,528.2 526.8,541 533.7,523.9 540.6,549.1 547.5,550.9 554.4,537.4 561.3,529 568.2,524.6 575.1,525.3 582,532.4 588.9,516.6 595.8,512.5 602.7,524.2 609.6,528.3 616.5,514.9 623.4,512.5 630.3,514.9 637.2,504.9 644.1,517.2" fill="none" stroke="#97DB3D" stroke-width="2.9" stroke-linejoin="round" stroke-linecap="round"/>
<circle cx="416.4" cy="560.8" r="3.1" fill="#97DB3D"/>
<circle cx="423.3" cy="549.4" r="3.1" fill="#97DB3D"/>
<circle cx="430.2" cy="555.3" r="3.1" fill="#97DB3D"/>
<circle cx="437.1" cy="551.6" r="3.1" fill="#97DB3D"/>
<circle cx="444" cy="547.7" r="3.1" fill="#97DB3D"/>
<circle cx="450.9" cy="556.4" r="3.1" fill="#97DB3D"/>
<circle cx="457.8" cy="547.7" r="3.1" fill="#97DB3D"/>
<circle cx="464.7" cy="559.6" r="3.1" fill="#97DB3D"/>
<circle cx="471.6" cy="553.8" r="3.1" fill="#97DB3D"/>
<circle cx="478.5" cy="546.5" r="3.1" fill="#97DB3D"/>
<circle cx="485.4" cy="545" r="3.1" fill="#97DB3D"/>
<circle cx="492.3" cy="543.6" r="3.1" fill="#97DB3D"/>
<circle cx="499.2" cy="549.1" r="3.1" fill="#97DB3D"/>
<circle cx="506.1" cy="557.9" r="3.1" fill="#97DB3D"/>
<circle cx="513" cy="558.9" r="3.1" fill="#97DB3D"/>
<circle cx="519.9" cy="528.2" r="3.1" fill="#97DB3D"/>
<circle cx="526.8" cy="541" r="3.1" fill="#97DB3D"/>
<circle cx="533.7" cy="523.9" r="3.1" fill="#97DB3D"/>
<circle cx="540.6" cy="549.1" r="3.1" fill="#97DB3D"/>
<circle cx="547.5" cy="550.9" r="3.1" fill="#97DB3D"/>
<circle cx="554.4" cy="537.4" r="3.1" fill="#97DB3D"/>
<circle cx="561.3" cy="529" r="3.1" fill="#97DB3D"/>
<circle cx="568.2" cy="524.6" r="3.1" fill="#97DB3D"/>
<circle cx="575.1" cy="525.3" r="3.1" fill="#97DB3D"/>
<circle cx="582" cy="532.4" r="3.1" fill="#97DB3D"/>
<circle cx="588.9" cy="516.6" r="3.1" fill="#97DB3D"/>
<circle cx="595.8" cy="512.5" r="3.1" fill="#97DB3D"/>
<circle cx="602.7" cy="524.2" r="3.1" fill="#97DB3D"/>
<circle cx="609.6" cy="528.3" r="3.1" fill="#97DB3D"/>
<circle cx="616.5" cy="514.9" r="3.1" fill="#97DB3D"/>
<circle cx="623.4" cy="512.5" r="3.1" fill="#97DB3D"/>
<circle cx="630.3" cy="514.9" r="3.1" fill="#97DB3D"/>
<circle cx="637.2" cy="504.9" r="3.1" fill="#97DB3D"/>
<circle cx="644.1" cy="517.2" r="3.1" fill="#97DB3D"/>
<polyline points="416.4,482.8 423.3,496 430.2,497 437.1,493.4 444,498.5 450.9,487.8 457.8,496.3 464.7,483.6 471.6,490.4 478.5,496.6 485.4,497.7 492.3,499.2 499.2,494.6 506.1,487.2 513,484.3 519.9,514.5 526.8,503.3 533.7,520.5 540.6,496 547.5,492.6 554.4,505.8 561.3,513.8 568.2,518.2 575.1,516.4 582,510.8 588.9,528.9 595.8,530.6 602.7,521 609.6,516 616.5,528.9 623.4,530.6 630.3,528.9 637.2,538.8 644.1,526.5" fill="none" stroke="#F5190F" stroke-width="2.9" stroke-linejoin="round" stroke-linecap="round"/>
<circle cx="416.4" cy="482.8" r="3.1" fill="#F5190F"/>
<circle cx="423.3" cy="496" r="3.1" fill="#F5190F"/>
<circle cx="430.2" cy="497" r="3.1" fill="#F5190F"/>
<circle cx="437.1" cy="493.4" r="3.1" fill="#F5190F"/>
<circle cx="444" cy="498.5" r="3.1" fill="#F5190F"/>
<circle cx="450.9" cy="487.8" r="3.1" fill="#F5190F"/>
<circle cx="457.8" cy="496.3" r="3.1" fill="#F5190F"/>
<circle cx="464.7" cy="483.6" r="3.1" fill="#F5190F"/>
<circle cx="471.6" cy="490.4" r="3.1" fill="#F5190F"/>
<circle cx="478.5" cy="496.6" r="3.1" fill="#F5190F"/>
<circle cx="485.4" cy="497.7" r="3.1" fill="#F5190F"/>
<circle cx="492.3" cy="499.2" r="3.1" fill="#F5190F"/>
<circle cx="499.2" cy="494.6" r="3.1" fill="#F5190F"/>
<circle cx="506.1" cy="487.2" r="3.1" fill="#F5190F"/>
<circle cx="513" cy="484.3" r="3.1" fill="#F5190F"/>
<circle cx="519.9" cy="514.5" r="3.1" fill="#F5190F"/>
<circle cx="526.8" cy="503.3" r="3.1" fill="#F5190F"/>
<circle cx="533.7" cy="520.5" r="3.1" fill="#F5190F"/>
<circle cx="540.6" cy="496" r="3.1" fill="#F5190F"/>
<circle cx="547.5" cy="492.6" r="3.1" fill="#F5190F"/>
<circle cx="554.4" cy="505.8" r="3.1" fill="#F5190F"/>
<circle cx="561.3" cy="513.8" r="3.1" fill="#F5190F"/>
<circle cx="568.2" cy="518.2" r="3.1" fill="#F5190F"/>
<circle cx="575.1" cy="516.4" r="3.1" fill="#F5190F"/>
<circle cx="582" cy="510.8" r="3.1" fill="#F5190F"/>
<circle cx="588.9" cy="528.9" r="3.1" fill="#F5190F"/>
<circle cx="595.8" cy="530.6" r="3.1" fill="#F5190F"/>
<circle cx="602.7" cy="521" r="3.1" fill="#F5190F"/>
<circle cx="609.6" cy="516" r="3.1" fill="#F5190F"/>
<circle cx="616.5" cy="528.9" r="3.1" fill="#F5190F"/>
<circle cx="623.4" cy="530.6" r="3.1" fill="#F5190F"/>
<circle cx="630.3" cy="528.9" r="3.1" fill="#F5190F"/>
<circle cx="637.2" cy="538.8" r="3.1" fill="#F5190F"/>
<circle cx="644.1" cy="526.5" r="3.1" fill="#F5190F"/>
<polygon points="416.4,554.1 422.09,553.19 427.79,552.27 433.48,551.36 439.17,550.43 444.86,549.51 450.56,548.58 456.25,547.64 461.94,546.7 467.63,545.75 473.33,544.79 479.02,543.83 484.71,542.85 490.4,541.86 496.1,540.85 501.79,539.83 507.48,538.79 513.17,537.72 518.87,536.64 524.56,535.53 530.25,534.4 535.94,533.24 541.63,532.06 547.33,530.85 553.02,529.63 558.71,528.38 564.4,527.11 570.1,525.82 575.79,524.53 581.48,523.22 587.18,521.89 592.87,520.56 598.56,519.22 604.25,517.87 609.95,516.52 615.64,515.16 621.33,513.79 627.02,512.43 632.72,511.05 638.41,509.68 644.1,508.3 644.1,520.3 638.41,521.21 632.72,522.13 627.02,523.04 621.33,523.97 615.64,524.89 609.95,525.82 604.25,526.76 598.56,527.7 592.87,528.65 587.18,529.61 581.48,530.57 575.79,531.55 570.1,532.54 564.4,533.55 558.71,534.57 553.02,535.61 547.33,536.68 541.63,537.76 535.94,538.87 530.25,540 524.56,541.16 518.87,542.34 513.17,543.55 507.48,544.77 501.79,546.02 496.1,547.29 490.4,548.58 484.71,549.87 479.02,551.18 473.33,552.51 467.63,553.84 461.94,555.18 456.25,556.53 450.56,557.88 444.86,559.24 439.17,560.61 433.48,561.97 427.79,563.35 422.09,564.72 416.4,566.1" fill="#C4C4C4" fill-opacity="0.36"/>
<line x1="416.4" y1="560.1" x2="644.1" y2="514.3" stroke="#97DB3D" stroke-width="3" stroke-dasharray="12.6 12.6" stroke-dashoffset="0"/>
<polygon points="416.4,478.5 422.09,479.88 427.79,481.26 433.48,482.63 439.17,484 444.86,485.37 450.56,486.73 456.25,488.09 461.94,489.44 467.63,490.78 473.33,492.12 479.02,493.45 484.71,494.77 490.4,496.07 496.1,497.37 501.79,498.64 507.48,499.91 513.17,501.15 518.87,502.37 524.56,503.57 530.25,504.75 535.94,505.91 541.63,507.04 547.33,508.15 553.02,509.25 558.71,510.32 564.4,511.38 570.1,512.42 575.79,513.45 581.48,514.46 587.18,515.47 592.87,516.47 598.56,517.46 604.25,518.44 609.95,519.42 615.64,520.39 621.33,521.36 627.02,522.33 632.72,523.29 638.41,524.24 644.1,525.2 644.1,536.2 638.41,534.82 632.72,533.44 627.02,532.07 621.33,530.7 615.64,529.33 609.95,527.97 604.25,526.61 598.56,525.26 592.87,523.92 587.18,522.58 581.48,521.25 575.79,519.93 570.1,518.63 564.4,517.33 558.71,516.06 553.02,514.79 547.33,513.55 541.63,512.33 535.94,511.13 530.25,509.95 524.56,508.79 518.87,507.66 513.17,506.55 507.48,505.45 501.79,504.38 496.1,503.32 490.4,502.28 484.71,501.25 479.02,500.24 473.33,499.23 467.63,498.23 461.94,497.24 456.25,496.26 450.56,495.28 444.86,494.31 439.17,493.34 433.48,492.37 427.79,491.41 422.09,490.46 416.4,489.5" fill="#C4C4C4" fill-opacity="0.36"/>
<line x1="416.4" y1="484" x2="644.1" y2="530.7" stroke="#F5190F" stroke-width="3" stroke-dasharray="12.6 12.6" stroke-dashoffset="0"/>
<rect x="405.5" y="443.9" width="250.1" height="159.3" fill="none" stroke="#444444" stroke-width="1.5"/>
<text x="457.7" y="456.36" font-size="11.8" text-anchor="middle" fill="#F5190F">Eb1 = 0.66</text>
<text x="547.35" y="456.36" font-size="11.8" text-anchor="middle" fill="#F5190F">Eb2 = 0.57</text>
<text x="616.75" y="456.36" font-size="11.8" text-anchor="middle" fill="#F5190F">Eb3 = 0.47</text>
<text x="538" y="487.4" font-size="11.8" fill="#F5190F" font-style="italic" letter-spacing="1.1">Trend</text>
<text x="577.7" y="487.4" font-size="11.8" fill="#F5190F">=</text>
<text x="587.8" y="487.4" font-size="11.8" fill="#F5190F">-0.01</text>
<text x="448.05" y="516.36" font-size="11.8" text-anchor="middle" fill="#F5190F">Eb/ET</text>
<text x="449.9" y="538.86" font-size="11.8" text-anchor="middle" fill="#97DB3D">Et/ET</text>
<text x="540.2" y="574.9" font-size="11.8" fill="#97DB3D" font-style="italic" letter-spacing="1.1">Trend</text>
<text x="580" y="574.9" font-size="11.8" fill="#97DB3D">=</text>
<text x="589.6" y="574.9" font-size="11.8" fill="#97DB3D">0.01</text>
<text x="458.05" y="597.76" font-size="11.8" text-anchor="middle" fill="#97DB3D">Et1 = 0.33</text>
<text x="547.8" y="597.76" font-size="11.8" text-anchor="middle" fill="#97DB3D">Et2 = 0.42</text>
<text x="616.65" y="597.76" font-size="11.8" text-anchor="middle" fill="#97DB3D">Et3 = 0.52</text>
<line x1="400.7" y1="564.6" x2="405.5" y2="564.6" stroke="#333333" stroke-width="1.3"/>
<text x="396.9" y="570.27" font-size="13" text-anchor="end" fill="#1a1a1a">0.25</text>
<line x1="400.7" y1="521" x2="405.5" y2="521" stroke="#333333" stroke-width="1.3"/>
<text x="396.9" y="526.67" font-size="13" text-anchor="end" fill="#1a1a1a">0.50</text>
<line x1="400.7" y1="477.4" x2="405.5" y2="477.4" stroke="#333333" stroke-width="1.3"/>
<text x="396.9" y="483.07" font-size="13" text-anchor="end" fill="#1a1a1a">0.75</text>
<line x1="437.1" y1="603.2" x2="437.1" y2="608" stroke="#333333" stroke-width="1.3"/>
<text x="437.7" y="622.67" font-size="13" text-anchor="end" fill="#1a1a1a">1990</text>
<line x1="506.1" y1="603.2" x2="506.1" y2="608" stroke="#333333" stroke-width="1.3"/>
<text x="506.7" y="622.67" font-size="13" text-anchor="end" fill="#1a1a1a">2000</text>
<line x1="575.1" y1="603.2" x2="575.1" y2="608" stroke="#333333" stroke-width="1.3"/>
<text x="575.7" y="622.67" font-size="13" text-anchor="end" fill="#1a1a1a">2010</text>
<line x1="644.1" y1="603.2" x2="644.1" y2="608" stroke="#333333" stroke-width="1.3"/>
<text x="644.7" y="622.67" font-size="13" text-anchor="end" fill="#1a1a1a">2020</text>
<text x="530.2" y="639.79" font-size="14.5" text-anchor="middle" fill="#1a1a1a">Year</text>
<text transform="translate(359.5,524.5) rotate(-90)" x="0" y="4.99" font-size="14.5" text-anchor="middle" fill="#1a1a1a">Eb/ET &amp; Et/ET</text>
<text x="353.6" y="441.5" font-size="19" font-weight="bold" fill="#000">f</text>
</svg>
</body></html>
